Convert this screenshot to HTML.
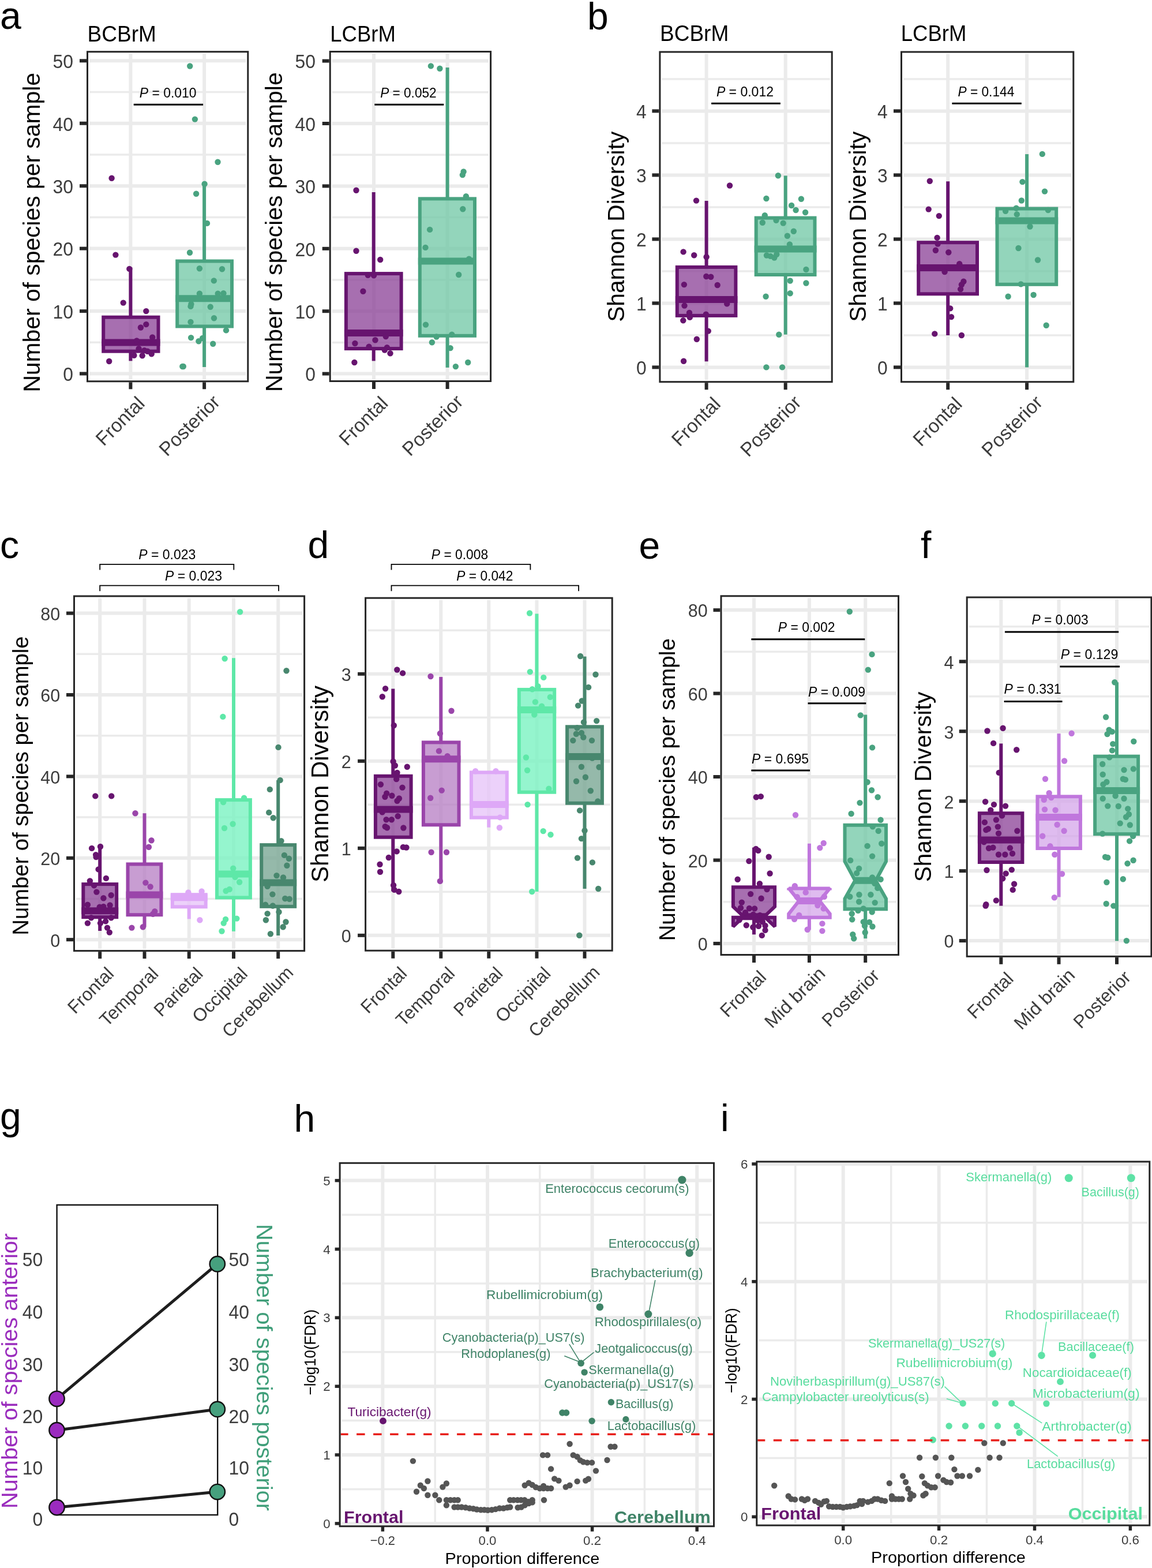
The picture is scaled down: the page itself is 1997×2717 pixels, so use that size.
<!DOCTYPE html>
<html><head><meta charset="utf-8"><title>Figure</title>
<style>html,body{margin:0;padding:0;background:#fff;}svg{display:block;}</style>
</head><body>
<svg width="1997" height="2717" viewBox="0 0 1997 2717" font-family='"Liberation Sans", Arial, sans-serif'>
<rect x="0" y="0" width="1997" height="2717" fill="#fff"/>
<rect x="151.5" y="89.7" width="278.3" height="571.1" fill="#fff" stroke="none" stroke-width="0"/>
<line x1="155" y1="593.3" x2="426.3" y2="593.3" stroke="#ebebeb" stroke-width="3.5"/>
<line x1="155" y1="484.8" x2="426.3" y2="484.8" stroke="#ebebeb" stroke-width="3.5"/>
<line x1="155" y1="376.4" x2="426.3" y2="376.4" stroke="#ebebeb" stroke-width="3.5"/>
<line x1="155" y1="268" x2="426.3" y2="268" stroke="#ebebeb" stroke-width="3.5"/>
<line x1="155" y1="159.5" x2="426.3" y2="159.5" stroke="#ebebeb" stroke-width="3.5"/>
<line x1="155" y1="647.5" x2="426.3" y2="647.5" stroke="#ebebeb" stroke-width="6"/>
<line x1="155" y1="539.1" x2="426.3" y2="539.1" stroke="#ebebeb" stroke-width="6"/>
<line x1="155" y1="430.6" x2="426.3" y2="430.6" stroke="#ebebeb" stroke-width="6"/>
<line x1="155" y1="322.2" x2="426.3" y2="322.2" stroke="#ebebeb" stroke-width="6"/>
<line x1="155" y1="213.7" x2="426.3" y2="213.7" stroke="#ebebeb" stroke-width="6"/>
<line x1="155" y1="105.3" x2="426.3" y2="105.3" stroke="#ebebeb" stroke-width="6"/>
<line x1="226.4" y1="93.2" x2="226.4" y2="657.3" stroke="#ebebeb" stroke-width="6"/>
<line x1="354.1" y1="93.2" x2="354.1" y2="657.3" stroke="#ebebeb" stroke-width="6"/>
<line x1="226.4" y1="463.4" x2="226.4" y2="549.7" stroke="#67146f" stroke-width="6"/>
<line x1="226.4" y1="608.7" x2="226.4" y2="625.4" stroke="#67146f" stroke-width="6"/>
<rect x="179.2" y="549.7" width="95.3" height="59" fill="#8a3f95" stroke="#67146f" stroke-width="6" fill-opacity="0.75"/>
<line x1="176.2" y1="593.6" x2="277.5" y2="593.6" stroke="#67146f" stroke-width="12"/>
<line x1="354.1" y1="318.8" x2="354.1" y2="452.5" stroke="#49a380" stroke-width="6"/>
<line x1="354.1" y1="565.5" x2="354.1" y2="636" stroke="#49a380" stroke-width="6"/>
<rect x="307.2" y="452.5" width="94.8" height="113" fill="#6fc7a4" stroke="#49a380" stroke-width="6" fill-opacity="0.75"/>
<line x1="304.2" y1="517.3" x2="405" y2="517.3" stroke="#49a380" stroke-width="12"/>
<circle cx="193.6" cy="308.8" r="5.2" fill="#67146f"/>
<circle cx="200.4" cy="441.6" r="5.2" fill="#67146f"/>
<circle cx="224.3" cy="465.9" r="5.2" fill="#67146f"/>
<circle cx="213.7" cy="524.6" r="5.2" fill="#67146f"/>
<circle cx="253.3" cy="539.1" r="5.2" fill="#67146f"/>
<circle cx="243.9" cy="567.5" r="5.2" fill="#67146f"/>
<circle cx="253.3" cy="562.1" r="5.2" fill="#67146f"/>
<circle cx="264.2" cy="584.5" r="5.2" fill="#67146f"/>
<circle cx="237" cy="590.5" r="5.2" fill="#67146f"/>
<circle cx="240.6" cy="604.2" r="5.2" fill="#67146f"/>
<circle cx="250.3" cy="607.2" r="5.2" fill="#67146f"/>
<circle cx="255.7" cy="608.7" r="5.2" fill="#67146f"/>
<circle cx="262.7" cy="613.3" r="5.2" fill="#67146f"/>
<circle cx="232.4" cy="615.7" r="5.2" fill="#67146f"/>
<circle cx="246.7" cy="616.3" r="5.2" fill="#67146f"/>
<circle cx="189.2" cy="626" r="5.2" fill="#67146f"/>
<circle cx="329.2" cy="114.5" r="5.2" fill="#49a380"/>
<circle cx="337.9" cy="206.6" r="5.2" fill="#49a380"/>
<circle cx="377.5" cy="280.7" r="5.2" fill="#49a380"/>
<circle cx="354.6" cy="318.8" r="5.2" fill="#49a380"/>
<circle cx="340.1" cy="335.7" r="5.2" fill="#49a380"/>
<circle cx="359" cy="386.9" r="5.2" fill="#49a380"/>
<circle cx="329" cy="437.7" r="5.2" fill="#49a380"/>
<circle cx="345.9" cy="465.3" r="5.2" fill="#49a380"/>
<circle cx="385" cy="466.2" r="5.2" fill="#49a380"/>
<circle cx="370.8" cy="486.4" r="5.2" fill="#49a380"/>
<circle cx="345.9" cy="508.8" r="5.2" fill="#49a380"/>
<circle cx="377.7" cy="508.8" r="5.2" fill="#49a380"/>
<circle cx="387.4" cy="508.2" r="5.2" fill="#49a380"/>
<circle cx="331.4" cy="527" r="5.2" fill="#49a380"/>
<circle cx="330.5" cy="530.9" r="5.2" fill="#49a380"/>
<circle cx="364.7" cy="531.8" r="5.2" fill="#49a380"/>
<circle cx="371" cy="551.2" r="5.2" fill="#49a380"/>
<circle cx="330.5" cy="557.9" r="5.2" fill="#49a380"/>
<circle cx="392" cy="572.4" r="5.2" fill="#49a380"/>
<circle cx="331.1" cy="585.1" r="5.2" fill="#49a380"/>
<circle cx="351.1" cy="586" r="5.2" fill="#49a380"/>
<circle cx="344.4" cy="591.2" r="5.2" fill="#49a380"/>
<circle cx="369.2" cy="595.7" r="5.2" fill="#49a380"/>
<circle cx="317.8" cy="635" r="5.2" fill="#49a380"/>
<circle cx="316.3" cy="635" r="5.2" fill="#49a380"/>
<rect x="151.5" y="89.7" width="278.3" height="571.1" fill="none" stroke="#262626" stroke-width="3"/>
<line x1="138" y1="647.5" x2="150" y2="647.5" stroke="#262626" stroke-width="6"/>
<text x="127" y="660.2" font-size="32.6" fill="#3c3c3c" text-anchor="end" textLength="17.7" lengthAdjust="spacingAndGlyphs">0</text>
<line x1="138" y1="539.1" x2="150" y2="539.1" stroke="#262626" stroke-width="6"/>
<text x="127" y="551.8" font-size="32.6" fill="#3c3c3c" text-anchor="end" textLength="35.5" lengthAdjust="spacingAndGlyphs">10</text>
<line x1="138" y1="430.6" x2="150" y2="430.6" stroke="#262626" stroke-width="6"/>
<text x="127" y="443.4" font-size="32.6" fill="#3c3c3c" text-anchor="end" textLength="35.5" lengthAdjust="spacingAndGlyphs">20</text>
<line x1="138" y1="322.2" x2="150" y2="322.2" stroke="#262626" stroke-width="6"/>
<text x="127" y="334.9" font-size="32.6" fill="#3c3c3c" text-anchor="end" textLength="35.5" lengthAdjust="spacingAndGlyphs">30</text>
<line x1="138" y1="213.7" x2="150" y2="213.7" stroke="#262626" stroke-width="6"/>
<text x="127" y="226.5" font-size="32.6" fill="#3c3c3c" text-anchor="end" textLength="35.5" lengthAdjust="spacingAndGlyphs">40</text>
<line x1="138" y1="105.3" x2="150" y2="105.3" stroke="#262626" stroke-width="6"/>
<text x="127" y="118.1" font-size="32.6" fill="#3c3c3c" text-anchor="end" textLength="35.5" lengthAdjust="spacingAndGlyphs">50</text>
<line x1="226.4" y1="662.3" x2="226.4" y2="674.3" stroke="#262626" stroke-width="6"/>
<line x1="354.1" y1="662.3" x2="354.1" y2="674.3" stroke="#262626" stroke-width="6"/>
<text x="252.8" y="701.4" font-size="33.5" fill="#3c3c3c" text-anchor="end" textLength="103.2" lengthAdjust="spacingAndGlyphs" transform="rotate(-45 252.8 701.4)">Frontal</text>
<text x="383.3" y="698.6" font-size="33.5" fill="#3c3c3c" text-anchor="end" textLength="132.5" lengthAdjust="spacingAndGlyphs" transform="rotate(-45 383.3 698.6)">Posterior</text>
<text x="241.7" y="169" font-size="24.5" fill="#000" text-anchor="start" textLength="98.9" lengthAdjust="spacingAndGlyphs"><tspan font-style="italic">P</tspan> = 0.010</text>
<line x1="231.7" y1="181.3" x2="352.1" y2="181.3" stroke="#000" stroke-width="3"/>
<text x="151.6" y="72.1" font-size="39.2" fill="#000" text-anchor="start" textLength="119.2" lengthAdjust="spacingAndGlyphs">BCBrM</text>
<text x="69" y="679.6" font-size="41.4" fill="#000" text-anchor="start" textLength="553.5" lengthAdjust="spacingAndGlyphs" transform="rotate(-90 69 679.6)">Number of species per sample</text>
<rect x="572.2" y="89.5" width="278.4" height="571" fill="#fff" stroke="none" stroke-width="0"/>
<line x1="575.7" y1="593.4" x2="847.1" y2="593.4" stroke="#ebebeb" stroke-width="3.5"/>
<line x1="575.7" y1="485" x2="847.1" y2="485" stroke="#ebebeb" stroke-width="3.5"/>
<line x1="575.7" y1="376.6" x2="847.1" y2="376.6" stroke="#ebebeb" stroke-width="3.5"/>
<line x1="575.7" y1="268.2" x2="847.1" y2="268.2" stroke="#ebebeb" stroke-width="3.5"/>
<line x1="575.7" y1="159.8" x2="847.1" y2="159.8" stroke="#ebebeb" stroke-width="3.5"/>
<line x1="575.7" y1="647.6" x2="847.1" y2="647.6" stroke="#ebebeb" stroke-width="6"/>
<line x1="575.7" y1="539.2" x2="847.1" y2="539.2" stroke="#ebebeb" stroke-width="6"/>
<line x1="575.7" y1="430.8" x2="847.1" y2="430.8" stroke="#ebebeb" stroke-width="6"/>
<line x1="575.7" y1="322.4" x2="847.1" y2="322.4" stroke="#ebebeb" stroke-width="6"/>
<line x1="575.7" y1="214" x2="847.1" y2="214" stroke="#ebebeb" stroke-width="6"/>
<line x1="575.7" y1="105.6" x2="847.1" y2="105.6" stroke="#ebebeb" stroke-width="6"/>
<line x1="648" y1="93" x2="648" y2="657" stroke="#ebebeb" stroke-width="6"/>
<line x1="775.6" y1="93" x2="775.6" y2="657" stroke="#ebebeb" stroke-width="6"/>
<line x1="647.7" y1="333" x2="647.7" y2="474.1" stroke="#67146f" stroke-width="6"/>
<line x1="647.7" y1="604.1" x2="647.7" y2="625.4" stroke="#67146f" stroke-width="6"/>
<rect x="599.9" y="474.1" width="95.7" height="130" fill="#8a3f95" stroke="#67146f" stroke-width="6" fill-opacity="0.75"/>
<line x1="596.9" y1="577.1" x2="698.6" y2="577.1" stroke="#67146f" stroke-width="12"/>
<line x1="775.6" y1="117" x2="775.6" y2="344.4" stroke="#49a380" stroke-width="6"/>
<line x1="775.6" y1="581.8" x2="775.6" y2="636.9" stroke="#49a380" stroke-width="6"/>
<rect x="727.8" y="344.4" width="95.2" height="237.4" fill="#6fc7a4" stroke="#49a380" stroke-width="6" fill-opacity="0.75"/>
<line x1="724.8" y1="452.6" x2="826" y2="452.6" stroke="#49a380" stroke-width="12"/>
<circle cx="617.5" cy="329.7" r="5.2" fill="#67146f"/>
<circle cx="617.5" cy="434.8" r="5.2" fill="#67146f"/>
<circle cx="659.2" cy="450" r="5.2" fill="#67146f"/>
<circle cx="637.8" cy="476.7" r="5.2" fill="#67146f"/>
<circle cx="648" cy="477.2" r="5.2" fill="#67146f"/>
<circle cx="629.4" cy="504.7" r="5.2" fill="#67146f"/>
<circle cx="668.8" cy="583" r="5.2" fill="#67146f"/>
<circle cx="650.5" cy="589.3" r="5.2" fill="#67146f"/>
<circle cx="615.4" cy="595" r="5.2" fill="#67146f"/>
<circle cx="639.6" cy="600.8" r="5.2" fill="#67146f"/>
<circle cx="670.9" cy="602.1" r="5.2" fill="#67146f"/>
<circle cx="666.8" cy="606.6" r="5.2" fill="#67146f"/>
<circle cx="676.5" cy="612.2" r="5.2" fill="#67146f"/>
<circle cx="614.4" cy="628" r="5.2" fill="#67146f"/>
<circle cx="746.9" cy="114.4" r="5.2" fill="#49a380"/>
<circle cx="762.4" cy="118.7" r="5.2" fill="#49a380"/>
<circle cx="803.6" cy="297.5" r="5.2" fill="#49a380"/>
<circle cx="801.8" cy="303.1" r="5.2" fill="#49a380"/>
<circle cx="807.9" cy="340.2" r="5.2" fill="#49a380"/>
<circle cx="802.3" cy="362.3" r="5.2" fill="#49a380"/>
<circle cx="745.1" cy="397.9" r="5.2" fill="#49a380"/>
<circle cx="737.5" cy="428.9" r="5.2" fill="#49a380"/>
<circle cx="813" cy="448.7" r="5.2" fill="#49a380"/>
<circle cx="795.2" cy="476" r="5.2" fill="#49a380"/>
<circle cx="738" cy="562.6" r="5.2" fill="#49a380"/>
<circle cx="756.6" cy="583.5" r="5.2" fill="#49a380"/>
<circle cx="783.3" cy="579.7" r="5.2" fill="#49a380"/>
<circle cx="748.9" cy="593.2" r="5.2" fill="#49a380"/>
<circle cx="780.7" cy="603.1" r="5.2" fill="#49a380"/>
<circle cx="811.2" cy="628" r="5.2" fill="#49a380"/>
<circle cx="789.9" cy="635.1" r="5.2" fill="#49a380"/>
<rect x="572.2" y="89.5" width="278.4" height="571" fill="none" stroke="#262626" stroke-width="3"/>
<line x1="558.7" y1="647.6" x2="570.7" y2="647.6" stroke="#262626" stroke-width="6"/>
<text x="547" y="660.4" font-size="32.6" fill="#3c3c3c" text-anchor="end" textLength="17.7" lengthAdjust="spacingAndGlyphs">0</text>
<line x1="558.7" y1="539.2" x2="570.7" y2="539.2" stroke="#262626" stroke-width="6"/>
<text x="547" y="552" font-size="32.6" fill="#3c3c3c" text-anchor="end" textLength="35.5" lengthAdjust="spacingAndGlyphs">10</text>
<line x1="558.7" y1="430.8" x2="570.7" y2="430.8" stroke="#262626" stroke-width="6"/>
<text x="547" y="443.6" font-size="32.6" fill="#3c3c3c" text-anchor="end" textLength="35.5" lengthAdjust="spacingAndGlyphs">20</text>
<line x1="558.7" y1="322.4" x2="570.7" y2="322.4" stroke="#262626" stroke-width="6"/>
<text x="547" y="335.2" font-size="32.6" fill="#3c3c3c" text-anchor="end" textLength="35.5" lengthAdjust="spacingAndGlyphs">30</text>
<line x1="558.7" y1="214" x2="570.7" y2="214" stroke="#262626" stroke-width="6"/>
<text x="547" y="226.8" font-size="32.6" fill="#3c3c3c" text-anchor="end" textLength="35.5" lengthAdjust="spacingAndGlyphs">40</text>
<line x1="558.7" y1="105.6" x2="570.7" y2="105.6" stroke="#262626" stroke-width="6"/>
<text x="547" y="118.4" font-size="32.6" fill="#3c3c3c" text-anchor="end" textLength="35.5" lengthAdjust="spacingAndGlyphs">50</text>
<line x1="648" y1="662" x2="648" y2="674" stroke="#262626" stroke-width="6"/>
<line x1="775.6" y1="662" x2="775.6" y2="674" stroke="#262626" stroke-width="6"/>
<text x="674.4" y="701.1" font-size="33.5" fill="#3c3c3c" text-anchor="end" textLength="103.2" lengthAdjust="spacingAndGlyphs" transform="rotate(-45 674.4 701.1)">Frontal</text>
<text x="804.8" y="698.3" font-size="33.5" fill="#3c3c3c" text-anchor="end" textLength="132.5" lengthAdjust="spacingAndGlyphs" transform="rotate(-45 804.8 698.3)">Posterior</text>
<text x="659.2" y="169" font-size="24.5" fill="#000" text-anchor="start" textLength="97.4" lengthAdjust="spacingAndGlyphs"><tspan font-style="italic">P</tspan> = 0.052</text>
<line x1="649.3" y1="181.3" x2="769.3" y2="181.3" stroke="#000" stroke-width="3"/>
<text x="572.3" y="72" font-size="39.2" fill="#000" text-anchor="start" textLength="113.5" lengthAdjust="spacingAndGlyphs">LCBrM</text>
<text x="488.6" y="678.9" font-size="41.4" fill="#000" text-anchor="start" textLength="553.5" lengthAdjust="spacingAndGlyphs" transform="rotate(-90 488.6 678.9)">Number of species per sample</text>
<rect x="1143.9" y="90" width="298.3" height="571.7" fill="#fff" stroke="none" stroke-width="0"/>
<line x1="1147.4" y1="580.9" x2="1438.7" y2="580.9" stroke="#ebebeb" stroke-width="3.5"/>
<line x1="1147.4" y1="469.9" x2="1438.7" y2="469.9" stroke="#ebebeb" stroke-width="3.5"/>
<line x1="1147.4" y1="358.9" x2="1438.7" y2="358.9" stroke="#ebebeb" stroke-width="3.5"/>
<line x1="1147.4" y1="247.9" x2="1438.7" y2="247.9" stroke="#ebebeb" stroke-width="3.5"/>
<line x1="1147.4" y1="136.9" x2="1438.7" y2="136.9" stroke="#ebebeb" stroke-width="3.5"/>
<line x1="1147.4" y1="636.4" x2="1438.7" y2="636.4" stroke="#ebebeb" stroke-width="6"/>
<line x1="1147.4" y1="525.4" x2="1438.7" y2="525.4" stroke="#ebebeb" stroke-width="6"/>
<line x1="1147.4" y1="414.4" x2="1438.7" y2="414.4" stroke="#ebebeb" stroke-width="6"/>
<line x1="1147.4" y1="303.4" x2="1438.7" y2="303.4" stroke="#ebebeb" stroke-width="6"/>
<line x1="1147.4" y1="192.4" x2="1438.7" y2="192.4" stroke="#ebebeb" stroke-width="6"/>
<line x1="1224.6" y1="93.5" x2="1224.6" y2="658.2" stroke="#ebebeb" stroke-width="6"/>
<line x1="1361.7" y1="93.5" x2="1361.7" y2="658.2" stroke="#ebebeb" stroke-width="6"/>
<line x1="1224.6" y1="348" x2="1224.6" y2="462.9" stroke="#67146f" stroke-width="6"/>
<line x1="1224.6" y1="546.9" x2="1224.6" y2="626.3" stroke="#67146f" stroke-width="6"/>
<rect x="1173.8" y="462.9" width="101.6" height="84" fill="#8a3f95" stroke="#67146f" stroke-width="6" fill-opacity="0.75"/>
<line x1="1170.8" y1="519" x2="1278.4" y2="519" stroke="#67146f" stroke-width="12"/>
<line x1="1361.7" y1="304.4" x2="1361.7" y2="377.6" stroke="#49a380" stroke-width="6"/>
<line x1="1361.7" y1="476" x2="1361.7" y2="579.7" stroke="#49a380" stroke-width="6"/>
<rect x="1310.7" y="377.6" width="101.8" height="98.4" fill="#6fc7a4" stroke="#49a380" stroke-width="6" fill-opacity="0.75"/>
<line x1="1307.7" y1="431.4" x2="1415.5" y2="431.4" stroke="#49a380" stroke-width="12"/>
<circle cx="1265" cy="321.5" r="5.2" fill="#67146f"/>
<circle cx="1207" cy="347.6" r="5.2" fill="#67146f"/>
<circle cx="1184.6" cy="436.4" r="5.2" fill="#67146f"/>
<circle cx="1203.2" cy="442.3" r="5.2" fill="#67146f"/>
<circle cx="1224.6" cy="445.2" r="5.2" fill="#67146f"/>
<circle cx="1224.3" cy="479" r="5.2" fill="#67146f"/>
<circle cx="1232.3" cy="479.8" r="5.2" fill="#67146f"/>
<circle cx="1185.9" cy="493.1" r="5.2" fill="#67146f"/>
<circle cx="1243.7" cy="494" r="5.2" fill="#67146f"/>
<circle cx="1186.5" cy="529.6" r="5.2" fill="#67146f"/>
<circle cx="1260.2" cy="526.4" r="5.2" fill="#67146f"/>
<circle cx="1195" cy="541.9" r="5.2" fill="#67146f"/>
<circle cx="1195.8" cy="549.9" r="5.2" fill="#67146f"/>
<circle cx="1223.8" cy="544.6" r="5.2" fill="#67146f"/>
<circle cx="1184.3" cy="555.2" r="5.2" fill="#67146f"/>
<circle cx="1227.8" cy="573.6" r="5.2" fill="#67146f"/>
<circle cx="1207.8" cy="587.7" r="5.2" fill="#67146f"/>
<circle cx="1185.1" cy="625.8" r="5.2" fill="#67146f"/>
<circle cx="1348.9" cy="304.2" r="5.2" fill="#49a380"/>
<circle cx="1328.4" cy="344" r="5.2" fill="#49a380"/>
<circle cx="1388.9" cy="344.8" r="5.2" fill="#49a380"/>
<circle cx="1372.1" cy="356" r="5.2" fill="#49a380"/>
<circle cx="1379.6" cy="364" r="5.2" fill="#49a380"/>
<circle cx="1396.1" cy="368" r="5.2" fill="#49a380"/>
<circle cx="1325.8" cy="373.3" r="5.2" fill="#49a380"/>
<circle cx="1321.8" cy="385.8" r="5.2" fill="#49a380"/>
<circle cx="1345.5" cy="381.8" r="5.2" fill="#49a380"/>
<circle cx="1357.7" cy="386.6" r="5.2" fill="#49a380"/>
<circle cx="1375.8" cy="400.7" r="5.2" fill="#49a380"/>
<circle cx="1364.9" cy="408.7" r="5.2" fill="#49a380"/>
<circle cx="1368.9" cy="423.4" r="5.2" fill="#49a380"/>
<circle cx="1329" cy="442.5" r="5.2" fill="#49a380"/>
<circle cx="1335.6" cy="443.9" r="5.2" fill="#49a380"/>
<circle cx="1342.3" cy="446.5" r="5.2" fill="#49a380"/>
<circle cx="1346.3" cy="440.7" r="5.2" fill="#49a380"/>
<circle cx="1397.4" cy="467" r="5.2" fill="#49a380"/>
<circle cx="1369.7" cy="486.5" r="5.2" fill="#49a380"/>
<circle cx="1397.4" cy="490.5" r="5.2" fill="#49a380"/>
<circle cx="1327.6" cy="513.7" r="5.2" fill="#49a380"/>
<circle cx="1369.7" cy="508.3" r="5.2" fill="#49a380"/>
<circle cx="1350.3" cy="579.7" r="5.2" fill="#49a380"/>
<circle cx="1328.4" cy="636.4" r="5.2" fill="#49a380"/>
<circle cx="1356.1" cy="636.4" r="5.2" fill="#49a380"/>
<rect x="1143.9" y="90" width="298.3" height="571.7" fill="none" stroke="#262626" stroke-width="3"/>
<line x1="1130.4" y1="636.4" x2="1142.4" y2="636.4" stroke="#262626" stroke-width="6"/>
<text x="1120.6" y="649.1" font-size="32.6" fill="#3c3c3c" text-anchor="end" textLength="17.7" lengthAdjust="spacingAndGlyphs">0</text>
<line x1="1130.4" y1="525.4" x2="1142.4" y2="525.4" stroke="#262626" stroke-width="6"/>
<text x="1120.6" y="538.1" font-size="32.6" fill="#3c3c3c" text-anchor="end" textLength="17.7" lengthAdjust="spacingAndGlyphs">1</text>
<line x1="1130.4" y1="414.4" x2="1142.4" y2="414.4" stroke="#262626" stroke-width="6"/>
<text x="1120.6" y="427.1" font-size="32.6" fill="#3c3c3c" text-anchor="end" textLength="17.7" lengthAdjust="spacingAndGlyphs">2</text>
<line x1="1130.4" y1="303.4" x2="1142.4" y2="303.4" stroke="#262626" stroke-width="6"/>
<text x="1120.6" y="316.1" font-size="32.6" fill="#3c3c3c" text-anchor="end" textLength="17.7" lengthAdjust="spacingAndGlyphs">3</text>
<line x1="1130.4" y1="192.4" x2="1142.4" y2="192.4" stroke="#262626" stroke-width="6"/>
<text x="1120.6" y="205.1" font-size="32.6" fill="#3c3c3c" text-anchor="end" textLength="17.7" lengthAdjust="spacingAndGlyphs">4</text>
<line x1="1224.6" y1="663.2" x2="1224.6" y2="675.2" stroke="#262626" stroke-width="6"/>
<line x1="1361.7" y1="663.2" x2="1361.7" y2="675.2" stroke="#262626" stroke-width="6"/>
<text x="1251" y="702.3" font-size="33.5" fill="#3c3c3c" text-anchor="end" textLength="103.2" lengthAdjust="spacingAndGlyphs" transform="rotate(-45 1251 702.3)">Frontal</text>
<text x="1390.9" y="699.5" font-size="33.5" fill="#3c3c3c" text-anchor="end" textLength="132.5" lengthAdjust="spacingAndGlyphs" transform="rotate(-45 1390.9 699.5)">Posterior</text>
<text x="1241.9" y="166.5" font-size="24.5" fill="#000" text-anchor="start" textLength="99.1" lengthAdjust="spacingAndGlyphs"><tspan font-style="italic">P</tspan> = 0.012</text>
<line x1="1233.1" y1="179.3" x2="1352.9" y2="179.3" stroke="#000" stroke-width="3"/>
<text x="1144" y="71.4" font-size="39.2" fill="#000" text-anchor="start" textLength="119.2" lengthAdjust="spacingAndGlyphs">BCBrM</text>
<text x="1081.6" y="557.8" font-size="41.4" fill="#000" text-anchor="start" textLength="330.1" lengthAdjust="spacingAndGlyphs" transform="rotate(-90 1081.6 557.8)">Shannon Diversity</text>
<rect x="1562.5" y="90" width="298.3" height="571.7" fill="#fff" stroke="none" stroke-width="0"/>
<line x1="1566" y1="580.9" x2="1857.3" y2="580.9" stroke="#ebebeb" stroke-width="3.5"/>
<line x1="1566" y1="469.9" x2="1857.3" y2="469.9" stroke="#ebebeb" stroke-width="3.5"/>
<line x1="1566" y1="358.9" x2="1857.3" y2="358.9" stroke="#ebebeb" stroke-width="3.5"/>
<line x1="1566" y1="247.9" x2="1857.3" y2="247.9" stroke="#ebebeb" stroke-width="3.5"/>
<line x1="1566" y1="136.9" x2="1857.3" y2="136.9" stroke="#ebebeb" stroke-width="3.5"/>
<line x1="1566" y1="636.4" x2="1857.3" y2="636.4" stroke="#ebebeb" stroke-width="6"/>
<line x1="1566" y1="525.4" x2="1857.3" y2="525.4" stroke="#ebebeb" stroke-width="6"/>
<line x1="1566" y1="414.4" x2="1857.3" y2="414.4" stroke="#ebebeb" stroke-width="6"/>
<line x1="1566" y1="303.4" x2="1857.3" y2="303.4" stroke="#ebebeb" stroke-width="6"/>
<line x1="1566" y1="192.4" x2="1857.3" y2="192.4" stroke="#ebebeb" stroke-width="6"/>
<line x1="1643.2" y1="93.5" x2="1643.2" y2="658.2" stroke="#ebebeb" stroke-width="6"/>
<line x1="1780.1" y1="93.5" x2="1780.1" y2="658.2" stroke="#ebebeb" stroke-width="6"/>
<line x1="1643.2" y1="314.3" x2="1643.2" y2="420.2" stroke="#67146f" stroke-width="6"/>
<line x1="1643.2" y1="509.3" x2="1643.2" y2="581" stroke="#67146f" stroke-width="6"/>
<rect x="1592.2" y="420.2" width="101.8" height="89.1" fill="#8a3f95" stroke="#67146f" stroke-width="6" fill-opacity="0.75"/>
<line x1="1589.2" y1="463.9" x2="1697" y2="463.9" stroke="#67146f" stroke-width="12"/>
<line x1="1780.1" y1="267.1" x2="1780.1" y2="361.6" stroke="#49a380" stroke-width="6"/>
<line x1="1780.1" y1="492.8" x2="1780.1" y2="636.4" stroke="#49a380" stroke-width="6"/>
<rect x="1728.5" y="361.6" width="102.7" height="131.2" fill="#6fc7a4" stroke="#49a380" stroke-width="6" fill-opacity="0.75"/>
<line x1="1725.5" y1="382.6" x2="1834.2" y2="382.6" stroke="#49a380" stroke-width="12"/>
<circle cx="1611.8" cy="313.8" r="5.2" fill="#67146f"/>
<circle cx="1609.7" cy="362.6" r="5.2" fill="#67146f"/>
<circle cx="1627.8" cy="374.1" r="5.2" fill="#67146f"/>
<circle cx="1624.6" cy="411.9" r="5.2" fill="#67146f"/>
<circle cx="1625.6" cy="422.6" r="5.2" fill="#67146f"/>
<circle cx="1621.9" cy="433.8" r="5.2" fill="#67146f"/>
<circle cx="1644.3" cy="437.2" r="5.2" fill="#67146f"/>
<circle cx="1663.2" cy="457.2" r="5.2" fill="#67146f"/>
<circle cx="1637.6" cy="471" r="5.2" fill="#67146f"/>
<circle cx="1670.4" cy="487.8" r="5.2" fill="#67146f"/>
<circle cx="1666.9" cy="493.2" r="5.2" fill="#67146f"/>
<circle cx="1665.1" cy="501.1" r="5.2" fill="#67146f"/>
<circle cx="1647.2" cy="534.4" r="5.2" fill="#67146f"/>
<circle cx="1649.1" cy="549.1" r="5.2" fill="#67146f"/>
<circle cx="1620.3" cy="578.4" r="5.2" fill="#67146f"/>
<circle cx="1666.9" cy="581" r="5.2" fill="#67146f"/>
<circle cx="1806.8" cy="266.9" r="5.2" fill="#49a380"/>
<circle cx="1772.4" cy="315.1" r="5.2" fill="#49a380"/>
<circle cx="1811" cy="331.6" r="5.2" fill="#49a380"/>
<circle cx="1770.8" cy="347.5" r="5.2" fill="#49a380"/>
<circle cx="1761.7" cy="360.8" r="5.2" fill="#49a380"/>
<circle cx="1743.1" cy="365.8" r="5.2" fill="#49a380"/>
<circle cx="1762.8" cy="371.4" r="5.2" fill="#49a380"/>
<circle cx="1816.9" cy="364" r="5.2" fill="#49a380"/>
<circle cx="1785.5" cy="392.5" r="5.2" fill="#49a380"/>
<circle cx="1765.5" cy="430" r="5.2" fill="#49a380"/>
<circle cx="1799" cy="450.5" r="5.2" fill="#49a380"/>
<circle cx="1769.7" cy="492.4" r="5.2" fill="#49a380"/>
<circle cx="1747.6" cy="513.7" r="5.2" fill="#49a380"/>
<circle cx="1791.6" cy="511" r="5.2" fill="#49a380"/>
<circle cx="1813.7" cy="563.7" r="5.2" fill="#49a380"/>
<rect x="1562.5" y="90" width="298.3" height="571.7" fill="none" stroke="#262626" stroke-width="3"/>
<line x1="1549" y1="636.4" x2="1561" y2="636.4" stroke="#262626" stroke-width="6"/>
<text x="1538.7" y="649.1" font-size="32.6" fill="#3c3c3c" text-anchor="end" textLength="17.7" lengthAdjust="spacingAndGlyphs">0</text>
<line x1="1549" y1="525.4" x2="1561" y2="525.4" stroke="#262626" stroke-width="6"/>
<text x="1538.7" y="538.1" font-size="32.6" fill="#3c3c3c" text-anchor="end" textLength="17.7" lengthAdjust="spacingAndGlyphs">1</text>
<line x1="1549" y1="414.4" x2="1561" y2="414.4" stroke="#262626" stroke-width="6"/>
<text x="1538.7" y="427.1" font-size="32.6" fill="#3c3c3c" text-anchor="end" textLength="17.7" lengthAdjust="spacingAndGlyphs">2</text>
<line x1="1549" y1="303.4" x2="1561" y2="303.4" stroke="#262626" stroke-width="6"/>
<text x="1538.7" y="316.1" font-size="32.6" fill="#3c3c3c" text-anchor="end" textLength="17.7" lengthAdjust="spacingAndGlyphs">3</text>
<line x1="1549" y1="192.4" x2="1561" y2="192.4" stroke="#262626" stroke-width="6"/>
<text x="1538.7" y="205.1" font-size="32.6" fill="#3c3c3c" text-anchor="end" textLength="17.7" lengthAdjust="spacingAndGlyphs">4</text>
<line x1="1643.2" y1="663.2" x2="1643.2" y2="675.2" stroke="#262626" stroke-width="6"/>
<line x1="1780.1" y1="663.2" x2="1780.1" y2="675.2" stroke="#262626" stroke-width="6"/>
<text x="1669.6" y="702.3" font-size="33.5" fill="#3c3c3c" text-anchor="end" textLength="103.2" lengthAdjust="spacingAndGlyphs" transform="rotate(-45 1669.6 702.3)">Frontal</text>
<text x="1809.3" y="699.5" font-size="33.5" fill="#3c3c3c" text-anchor="end" textLength="132.5" lengthAdjust="spacingAndGlyphs" transform="rotate(-45 1809.3 699.5)">Posterior</text>
<text x="1660.5" y="166.5" font-size="24.5" fill="#000" text-anchor="start" textLength="97.8" lengthAdjust="spacingAndGlyphs"><tspan font-style="italic">P</tspan> = 0.144</text>
<line x1="1650.4" y1="179.3" x2="1770.8" y2="179.3" stroke="#000" stroke-width="3"/>
<text x="1561.8" y="71.4" font-size="39.2" fill="#000" text-anchor="start" textLength="113.5" lengthAdjust="spacingAndGlyphs">LCBrM</text>
<text x="1500.8" y="557.8" font-size="41.4" fill="#000" text-anchor="start" textLength="330.1" lengthAdjust="spacingAndGlyphs" transform="rotate(-90 1500.8 557.8)">Shannon Diversity</text>
<text x="0" y="50" font-size="66" fill="#000">a</text>
<text x="1018" y="50.6" font-size="66" fill="#000">b</text>
<rect x="128.5" y="1033" width="399.1" height="614.6" fill="#fff" stroke="none" stroke-width="0"/>
<line x1="132" y1="1557.5" x2="524.1" y2="1557.5" stroke="#ebebeb" stroke-width="3.5"/>
<line x1="132" y1="1416.1" x2="524.1" y2="1416.1" stroke="#ebebeb" stroke-width="3.5"/>
<line x1="132" y1="1274.7" x2="524.1" y2="1274.7" stroke="#ebebeb" stroke-width="3.5"/>
<line x1="132" y1="1133.3" x2="524.1" y2="1133.3" stroke="#ebebeb" stroke-width="3.5"/>
<line x1="132" y1="1628.2" x2="524.1" y2="1628.2" stroke="#ebebeb" stroke-width="6"/>
<line x1="132" y1="1486.8" x2="524.1" y2="1486.8" stroke="#ebebeb" stroke-width="6"/>
<line x1="132" y1="1345.4" x2="524.1" y2="1345.4" stroke="#ebebeb" stroke-width="6"/>
<line x1="132" y1="1204" x2="524.1" y2="1204" stroke="#ebebeb" stroke-width="6"/>
<line x1="132" y1="1062.6" x2="524.1" y2="1062.6" stroke="#ebebeb" stroke-width="6"/>
<line x1="173.2" y1="1036.5" x2="173.2" y2="1644.1" stroke="#ebebeb" stroke-width="6"/>
<line x1="250.5" y1="1036.5" x2="250.5" y2="1644.1" stroke="#ebebeb" stroke-width="6"/>
<line x1="327.7" y1="1036.5" x2="327.7" y2="1644.1" stroke="#ebebeb" stroke-width="6"/>
<line x1="405" y1="1036.5" x2="405" y2="1644.1" stroke="#ebebeb" stroke-width="6"/>
<line x1="482.2" y1="1036.5" x2="482.2" y2="1644.1" stroke="#ebebeb" stroke-width="6"/>
<line x1="173.2" y1="1467.8" x2="173.2" y2="1532.1" stroke="#67146f" stroke-width="6"/>
<line x1="173.2" y1="1589.2" x2="173.2" y2="1613" stroke="#67146f" stroke-width="6"/>
<rect x="144.3" y="1532.1" width="57.9" height="57.1" fill="#8a3f95" stroke="#67146f" stroke-width="6" fill-opacity="0.75"/>
<line x1="141.3" y1="1578.3" x2="205.2" y2="1578.3" stroke="#67146f" stroke-width="12"/>
<line x1="250.5" y1="1409.2" x2="250.5" y2="1497.4" stroke="#9a45aa" stroke-width="6"/>
<line x1="250.5" y1="1585.2" x2="250.5" y2="1606.3" stroke="#9a45aa" stroke-width="6"/>
<rect x="221.5" y="1497.4" width="57.9" height="87.8" fill="#b57cc3" stroke="#9a45aa" stroke-width="6" fill-opacity="0.75"/>
<line x1="218.5" y1="1550.4" x2="282.4" y2="1550.4" stroke="#9a45aa" stroke-width="12"/>
<line x1="327.7" y1="1571.3" x2="327.7" y2="1592.4" stroke="#dea8f7" stroke-width="6"/>
<rect x="298.8" y="1550.2" width="57.9" height="21.1" fill="#e7c6f9" stroke="#dea8f7" stroke-width="6" fill-opacity="0.8"/>
<line x1="295.8" y1="1555.2" x2="359.7" y2="1555.2" stroke="#dea8f7" stroke-width="12"/>
<line x1="405" y1="1140.3" x2="405" y2="1386.1" stroke="#5ee8a8" stroke-width="6"/>
<line x1="405" y1="1555.4" x2="405" y2="1613.8" stroke="#5ee8a8" stroke-width="6"/>
<rect x="376" y="1386.1" width="57.9" height="169.3" fill="#7af3c2" stroke="#5ee8a8" stroke-width="6" fill-opacity="0.8"/>
<line x1="373" y1="1514.4" x2="436.9" y2="1514.4" stroke="#5ee8a8" stroke-width="12"/>
<line x1="482.2" y1="1351.9" x2="482.2" y2="1464.1" stroke="#48876e" stroke-width="6"/>
<line x1="482.2" y1="1570.8" x2="482.2" y2="1621" stroke="#48876e" stroke-width="6"/>
<rect x="453.2" y="1464.1" width="58" height="106.7" fill="#7aa795" stroke="#48876e" stroke-width="6" fill-opacity="0.8"/>
<line x1="450.2" y1="1529.6" x2="514.2" y2="1529.6" stroke="#48876e" stroke-width="12"/>
<circle cx="165.3" cy="1379.4" r="5.2" fill="#67146f"/>
<circle cx="193.2" cy="1379.4" r="5.2" fill="#67146f"/>
<circle cx="159.1" cy="1469.9" r="5.2" fill="#67146f"/>
<circle cx="174" cy="1467" r="5.2" fill="#67146f"/>
<circle cx="166.1" cy="1481.1" r="5.2" fill="#67146f"/>
<circle cx="166.6" cy="1485.1" r="5.2" fill="#67146f"/>
<circle cx="170.6" cy="1506.4" r="5.2" fill="#67146f"/>
<circle cx="183.9" cy="1521.9" r="5.2" fill="#67146f"/>
<circle cx="155.9" cy="1526.4" r="5.2" fill="#67146f"/>
<circle cx="163.1" cy="1534.4" r="5.2" fill="#67146f"/>
<circle cx="167.4" cy="1545.6" r="5.2" fill="#67146f"/>
<circle cx="192.7" cy="1551.2" r="5.2" fill="#67146f"/>
<circle cx="179.4" cy="1556.2" r="5.2" fill="#67146f"/>
<circle cx="151.9" cy="1567.7" r="5.2" fill="#67146f"/>
<circle cx="172.7" cy="1571.7" r="5.2" fill="#67146f"/>
<circle cx="179.4" cy="1570.9" r="5.2" fill="#67146f"/>
<circle cx="190.6" cy="1568.5" r="5.2" fill="#67146f"/>
<circle cx="158.1" cy="1590.3" r="5.2" fill="#67146f"/>
<circle cx="192.7" cy="1590.3" r="5.2" fill="#67146f"/>
<circle cx="151.9" cy="1599.6" r="5.2" fill="#67146f"/>
<circle cx="174" cy="1599.6" r="5.2" fill="#67146f"/>
<circle cx="183.1" cy="1596.4" r="5.2" fill="#67146f"/>
<circle cx="186" cy="1607.6" r="5.2" fill="#67146f"/>
<circle cx="189.8" cy="1615.6" r="5.2" fill="#67146f"/>
<circle cx="166.6" cy="1578.3" r="5.2" fill="#67146f"/>
<circle cx="234.5" cy="1409.2" r="5.2" fill="#9a45aa"/>
<circle cx="262.5" cy="1456.3" r="5.2" fill="#9a45aa"/>
<circle cx="257.9" cy="1467.8" r="5.2" fill="#9a45aa"/>
<circle cx="252.4" cy="1529.6" r="5.2" fill="#9a45aa"/>
<circle cx="260.6" cy="1536.5" r="5.2" fill="#9a45aa"/>
<circle cx="268.3" cy="1579.1" r="5.2" fill="#9a45aa"/>
<circle cx="265.1" cy="1583.7" r="5.2" fill="#9a45aa"/>
<circle cx="228.4" cy="1607.6" r="5.2" fill="#9a45aa"/>
<circle cx="247.8" cy="1606.3" r="5.2" fill="#9a45aa"/>
<circle cx="326.4" cy="1546.4" r="5.2" fill="#dea8f7"/>
<circle cx="349.6" cy="1544.5" r="5.2" fill="#dea8f7"/>
<circle cx="346.4" cy="1594.3" r="5.2" fill="#dea8f7"/>
<circle cx="416.1" cy="1060.2" r="5.2" fill="#5ee8a8"/>
<circle cx="389.6" cy="1141.2" r="5.2" fill="#5ee8a8"/>
<circle cx="386.4" cy="1241.9" r="5.2" fill="#5ee8a8"/>
<circle cx="423.1" cy="1382.6" r="5.2" fill="#5ee8a8"/>
<circle cx="387.1" cy="1390" r="5.2" fill="#5ee8a8"/>
<circle cx="389" cy="1435" r="5.2" fill="#5ee8a8"/>
<circle cx="403.6" cy="1427.8" r="5.2" fill="#5ee8a8"/>
<circle cx="404.2" cy="1504.6" r="5.2" fill="#5ee8a8"/>
<circle cx="407.6" cy="1519.7" r="5.2" fill="#5ee8a8"/>
<circle cx="415.1" cy="1528.5" r="5.2" fill="#5ee8a8"/>
<circle cx="391.6" cy="1543.7" r="5.2" fill="#5ee8a8"/>
<circle cx="397.8" cy="1541" r="5.2" fill="#5ee8a8"/>
<circle cx="391.1" cy="1593" r="5.2" fill="#5ee8a8"/>
<circle cx="410.3" cy="1591.6" r="5.2" fill="#5ee8a8"/>
<circle cx="387.7" cy="1599.6" r="5.2" fill="#5ee8a8"/>
<circle cx="384.5" cy="1613.5" r="5.2" fill="#5ee8a8"/>
<circle cx="496.5" cy="1162.2" r="5.2" fill="#48876e"/>
<circle cx="482.5" cy="1294.9" r="5.2" fill="#48876e"/>
<circle cx="485.7" cy="1351.9" r="5.2" fill="#48876e"/>
<circle cx="467.8" cy="1367.9" r="5.2" fill="#48876e"/>
<circle cx="466.2" cy="1407.9" r="5.2" fill="#48876e"/>
<circle cx="473.7" cy="1417.2" r="5.2" fill="#48876e"/>
<circle cx="487.5" cy="1457.1" r="5.2" fill="#48876e"/>
<circle cx="492.9" cy="1481.9" r="5.2" fill="#48876e"/>
<circle cx="500.9" cy="1487.8" r="5.2" fill="#48876e"/>
<circle cx="497.4" cy="1499.8" r="5.2" fill="#48876e"/>
<circle cx="479.5" cy="1517.1" r="5.2" fill="#48876e"/>
<circle cx="491" cy="1520.5" r="5.2" fill="#48876e"/>
<circle cx="463.6" cy="1535.7" r="5.2" fill="#48876e"/>
<circle cx="472.4" cy="1549.6" r="5.2" fill="#48876e"/>
<circle cx="494.2" cy="1557" r="5.2" fill="#48876e"/>
<circle cx="501.7" cy="1557.8" r="5.2" fill="#48876e"/>
<circle cx="460.1" cy="1567.7" r="5.2" fill="#48876e"/>
<circle cx="472.9" cy="1569.5" r="5.2" fill="#48876e"/>
<circle cx="483.5" cy="1580.2" r="5.2" fill="#48876e"/>
<circle cx="463.6" cy="1583.1" r="5.2" fill="#48876e"/>
<circle cx="460.9" cy="1594.3" r="5.2" fill="#48876e"/>
<circle cx="495.5" cy="1597.5" r="5.2" fill="#48876e"/>
<circle cx="490.7" cy="1606.3" r="5.2" fill="#48876e"/>
<circle cx="468.9" cy="1618.3" r="5.2" fill="#48876e"/>
<rect x="128.5" y="1033" width="399.1" height="614.6" fill="none" stroke="#262626" stroke-width="3"/>
<line x1="115" y1="1628.2" x2="127" y2="1628.2" stroke="#262626" stroke-width="6"/>
<text x="104.2" y="1640.5" font-size="31.2" fill="#3c3c3c" text-anchor="end" textLength="17" lengthAdjust="spacingAndGlyphs">0</text>
<line x1="115" y1="1486.8" x2="127" y2="1486.8" stroke="#262626" stroke-width="6"/>
<text x="104.2" y="1499.1" font-size="31.2" fill="#3c3c3c" text-anchor="end" textLength="34" lengthAdjust="spacingAndGlyphs">20</text>
<line x1="115" y1="1345.4" x2="127" y2="1345.4" stroke="#262626" stroke-width="6"/>
<text x="104.2" y="1357.7" font-size="31.2" fill="#3c3c3c" text-anchor="end" textLength="34" lengthAdjust="spacingAndGlyphs">40</text>
<line x1="115" y1="1204" x2="127" y2="1204" stroke="#262626" stroke-width="6"/>
<text x="104.2" y="1216.3" font-size="31.2" fill="#3c3c3c" text-anchor="end" textLength="34" lengthAdjust="spacingAndGlyphs">60</text>
<line x1="115" y1="1062.6" x2="127" y2="1062.6" stroke="#262626" stroke-width="6"/>
<text x="104.2" y="1074.9" font-size="31.2" fill="#3c3c3c" text-anchor="end" textLength="34" lengthAdjust="spacingAndGlyphs">80</text>
<line x1="173.2" y1="1649.1" x2="173.2" y2="1661.1" stroke="#262626" stroke-width="6"/>
<line x1="250.5" y1="1649.1" x2="250.5" y2="1661.1" stroke="#262626" stroke-width="6"/>
<line x1="327.7" y1="1649.1" x2="327.7" y2="1661.1" stroke="#262626" stroke-width="6"/>
<line x1="405" y1="1649.1" x2="405" y2="1661.1" stroke="#262626" stroke-width="6"/>
<line x1="482.2" y1="1649.1" x2="482.2" y2="1661.1" stroke="#262626" stroke-width="6"/>
<text x="199.2" y="1689.3" font-size="31.6" fill="#3c3c3c" text-anchor="end" textLength="97.5" lengthAdjust="spacingAndGlyphs" transform="rotate(-45 199.2 1689.3)">Frontal</text>
<text x="276.5" y="1689.3" font-size="31.6" fill="#3c3c3c" text-anchor="end" textLength="128.7" lengthAdjust="spacingAndGlyphs" transform="rotate(-45 276.5 1689.3)">Temporal</text>
<text x="353.7" y="1689.3" font-size="31.6" fill="#3c3c3c" text-anchor="end" textLength="104.6" lengthAdjust="spacingAndGlyphs" transform="rotate(-45 353.7 1689.3)">Parietal</text>
<text x="431" y="1689.3" font-size="31.6" fill="#3c3c3c" text-anchor="end" textLength="119.8" lengthAdjust="spacingAndGlyphs" transform="rotate(-45 431 1689.3)">Occipital</text>
<text x="510.3" y="1687.2" font-size="31.6" fill="#3c3c3c" text-anchor="end" textLength="158.8" lengthAdjust="spacingAndGlyphs" transform="rotate(-45 510.3 1687.2)">Cerebellum</text>
<text x="240.3" y="969.3" font-size="24.5" fill="#000" text-anchor="start" textLength="99" lengthAdjust="spacingAndGlyphs"><tspan font-style="italic">P</tspan> = 0.023</text>
<polyline points="173.2,987.6 173.2,977.8 405.3,977.8 405.3,987.6" fill="none" stroke="#000" stroke-width="1.8"/>
<text x="286" y="1006.2" font-size="24.5" fill="#000" text-anchor="start" textLength="99" lengthAdjust="spacingAndGlyphs"><tspan font-style="italic">P</tspan> = 0.023</text>
<polyline points="173.2,1024.2 173.2,1014.7 483.1,1014.7 483.1,1024.2" fill="none" stroke="#000" stroke-width="1.8"/>
<text x="48.8" y="1620.7" font-size="39.1" fill="#000" text-anchor="start" textLength="518.3" lengthAdjust="spacingAndGlyphs" transform="rotate(-90 48.8 1620.7)">Number of species per sample</text>
<text x="0" y="967" font-size="66" fill="#000">c</text>
<rect x="633.6" y="1036.2" width="427.6" height="611" fill="#fff" stroke="none" stroke-width="0"/>
<line x1="637.1" y1="1545.3" x2="1057.7" y2="1545.3" stroke="#ebebeb" stroke-width="3.5"/>
<line x1="637.1" y1="1394.3" x2="1057.7" y2="1394.3" stroke="#ebebeb" stroke-width="3.5"/>
<line x1="637.1" y1="1243.3" x2="1057.7" y2="1243.3" stroke="#ebebeb" stroke-width="3.5"/>
<line x1="637.1" y1="1092.3" x2="1057.7" y2="1092.3" stroke="#ebebeb" stroke-width="3.5"/>
<line x1="637.1" y1="1620.8" x2="1057.7" y2="1620.8" stroke="#ebebeb" stroke-width="6"/>
<line x1="637.1" y1="1469.8" x2="1057.7" y2="1469.8" stroke="#ebebeb" stroke-width="6"/>
<line x1="637.1" y1="1318.8" x2="1057.7" y2="1318.8" stroke="#ebebeb" stroke-width="6"/>
<line x1="637.1" y1="1167.8" x2="1057.7" y2="1167.8" stroke="#ebebeb" stroke-width="6"/>
<line x1="681.3" y1="1039.7" x2="681.3" y2="1643.7" stroke="#ebebeb" stroke-width="6"/>
<line x1="764.3" y1="1039.7" x2="764.3" y2="1643.7" stroke="#ebebeb" stroke-width="6"/>
<line x1="847.3" y1="1039.7" x2="847.3" y2="1643.7" stroke="#ebebeb" stroke-width="6"/>
<line x1="930.5" y1="1039.7" x2="930.5" y2="1643.7" stroke="#ebebeb" stroke-width="6"/>
<line x1="1013.5" y1="1039.7" x2="1013.5" y2="1643.7" stroke="#ebebeb" stroke-width="6"/>
<line x1="681.3" y1="1193.5" x2="681.3" y2="1344.8" stroke="#67146f" stroke-width="6"/>
<line x1="681.3" y1="1450.7" x2="681.3" y2="1544.5" stroke="#67146f" stroke-width="6"/>
<rect x="650.9" y="1344.8" width="61.7" height="105.9" fill="#8a3f95" stroke="#67146f" stroke-width="6" fill-opacity="0.75"/>
<line x1="647.9" y1="1402.5" x2="715.6" y2="1402.5" stroke="#67146f" stroke-width="12"/>
<line x1="764.3" y1="1173" x2="764.3" y2="1286.4" stroke="#9a45aa" stroke-width="6"/>
<line x1="764.3" y1="1429.3" x2="764.3" y2="1526.9" stroke="#9a45aa" stroke-width="6"/>
<rect x="733.9" y="1286.4" width="61.6" height="142.9" fill="#b57cc3" stroke="#9a45aa" stroke-width="6" fill-opacity="0.75"/>
<line x1="730.9" y1="1315.3" x2="798.5" y2="1315.3" stroke="#9a45aa" stroke-width="12"/>
<line x1="847.3" y1="1416.7" x2="847.3" y2="1433.7" stroke="#dea8f7" stroke-width="6"/>
<rect x="816.9" y="1338.4" width="61.9" height="78.3" fill="#e7c6f9" stroke="#dea8f7" stroke-width="6" fill-opacity="0.8"/>
<line x1="813.9" y1="1394.1" x2="881.8" y2="1394.1" stroke="#dea8f7" stroke-width="12"/>
<line x1="930.5" y1="1063.4" x2="930.5" y2="1194.9" stroke="#5ee8a8" stroke-width="6"/>
<line x1="930.5" y1="1372.7" x2="930.5" y2="1545" stroke="#5ee8a8" stroke-width="6"/>
<rect x="899.8" y="1194.9" width="61.4" height="177.8" fill="#7af3c2" stroke="#5ee8a8" stroke-width="6" fill-opacity="0.8"/>
<line x1="896.8" y1="1230.1" x2="964.2" y2="1230.1" stroke="#5ee8a8" stroke-width="12"/>
<line x1="1013.5" y1="1137.6" x2="1013.5" y2="1259.3" stroke="#48876e" stroke-width="6"/>
<line x1="1013.5" y1="1391.7" x2="1013.5" y2="1540" stroke="#48876e" stroke-width="6"/>
<rect x="983.1" y="1259.3" width="60.8" height="132.4" fill="#7aa795" stroke="#48876e" stroke-width="6" fill-opacity="0.8"/>
<line x1="980.1" y1="1311.1" x2="1046.9" y2="1311.1" stroke="#48876e" stroke-width="12"/>
<circle cx="688.3" cy="1160.5" r="5.2" fill="#67146f"/>
<circle cx="698.1" cy="1166.4" r="5.2" fill="#67146f"/>
<circle cx="668.1" cy="1193.2" r="5.2" fill="#67146f"/>
<circle cx="662.8" cy="1207.3" r="5.2" fill="#67146f"/>
<circle cx="682.8" cy="1257" r="5.2" fill="#67146f"/>
<circle cx="681.6" cy="1319.5" r="5.2" fill="#67146f"/>
<circle cx="684.9" cy="1326.5" r="5.2" fill="#67146f"/>
<circle cx="705.8" cy="1328.7" r="5.2" fill="#67146f"/>
<circle cx="688.5" cy="1339" r="5.2" fill="#67146f"/>
<circle cx="687.2" cy="1350.1" r="5.2" fill="#67146f"/>
<circle cx="659.9" cy="1359.3" r="5.2" fill="#67146f"/>
<circle cx="697.5" cy="1364.6" r="5.2" fill="#67146f"/>
<circle cx="670.2" cy="1374.6" r="5.2" fill="#67146f"/>
<circle cx="667.4" cy="1380.8" r="5.2" fill="#67146f"/>
<circle cx="679.4" cy="1378.8" r="5.2" fill="#67146f"/>
<circle cx="691.9" cy="1383.5" r="5.2" fill="#67146f"/>
<circle cx="688.5" cy="1387.7" r="5.2" fill="#67146f"/>
<circle cx="662.7" cy="1407.2" r="5.2" fill="#67146f"/>
<circle cx="669.6" cy="1420.3" r="5.2" fill="#67146f"/>
<circle cx="678.8" cy="1420.3" r="5.2" fill="#67146f"/>
<circle cx="689.7" cy="1414.2" r="5.2" fill="#67146f"/>
<circle cx="667.7" cy="1432.3" r="5.2" fill="#67146f"/>
<circle cx="671" cy="1434.2" r="5.2" fill="#67146f"/>
<circle cx="699.4" cy="1434.5" r="5.2" fill="#67146f"/>
<circle cx="698.9" cy="1467.9" r="5.2" fill="#67146f"/>
<circle cx="704.4" cy="1468.5" r="5.2" fill="#67146f"/>
<circle cx="687.7" cy="1475.4" r="5.2" fill="#67146f"/>
<circle cx="673.8" cy="1486" r="5.2" fill="#67146f"/>
<circle cx="658.5" cy="1497.7" r="5.2" fill="#67146f"/>
<circle cx="659" cy="1510.8" r="5.2" fill="#67146f"/>
<circle cx="682.1" cy="1533.9" r="5.2" fill="#67146f"/>
<circle cx="683.5" cy="1541.7" r="5.2" fill="#67146f"/>
<circle cx="691.3" cy="1545" r="5.2" fill="#67146f"/>
<circle cx="746.5" cy="1172" r="5.2" fill="#9a45aa"/>
<circle cx="782.5" cy="1231.8" r="5.2" fill="#9a45aa"/>
<circle cx="762.9" cy="1271" r="5.2" fill="#9a45aa"/>
<circle cx="760.9" cy="1301.4" r="5.2" fill="#9a45aa"/>
<circle cx="775.6" cy="1310.2" r="5.2" fill="#9a45aa"/>
<circle cx="765.7" cy="1369.6" r="5.2" fill="#9a45aa"/>
<circle cx="746.2" cy="1382.7" r="5.2" fill="#9a45aa"/>
<circle cx="747.6" cy="1476.8" r="5.2" fill="#9a45aa"/>
<circle cx="774" cy="1476.8" r="5.2" fill="#9a45aa"/>
<circle cx="762.9" cy="1526.9" r="5.2" fill="#9a45aa"/>
<circle cx="824.2" cy="1336.2" r="5.2" fill="#dea8f7"/>
<circle cx="859.5" cy="1336.2" r="5.2" fill="#dea8f7"/>
<circle cx="866.8" cy="1416.4" r="5.2" fill="#dea8f7"/>
<circle cx="865.9" cy="1434.2" r="5.2" fill="#dea8f7"/>
<circle cx="918.1" cy="1062.5" r="5.2" fill="#5ee8a8"/>
<circle cx="918.8" cy="1164.1" r="5.2" fill="#5ee8a8"/>
<circle cx="942.3" cy="1173.9" r="5.2" fill="#5ee8a8"/>
<circle cx="922.7" cy="1194.2" r="5.2" fill="#5ee8a8"/>
<circle cx="932.5" cy="1189.3" r="5.2" fill="#5ee8a8"/>
<circle cx="953.8" cy="1207.9" r="5.2" fill="#5ee8a8"/>
<circle cx="927.9" cy="1216.4" r="5.2" fill="#5ee8a8"/>
<circle cx="939.1" cy="1223.6" r="5.2" fill="#5ee8a8"/>
<circle cx="926.3" cy="1238.3" r="5.2" fill="#5ee8a8"/>
<circle cx="911.9" cy="1312.5" r="5.2" fill="#5ee8a8"/>
<circle cx="914.1" cy="1334.8" r="5.2" fill="#5ee8a8"/>
<circle cx="951.4" cy="1366.8" r="5.2" fill="#5ee8a8"/>
<circle cx="914.6" cy="1394.1" r="5.2" fill="#5ee8a8"/>
<circle cx="941.7" cy="1440.1" r="5.2" fill="#5ee8a8"/>
<circle cx="954.5" cy="1446.2" r="5.2" fill="#5ee8a8"/>
<circle cx="922.2" cy="1545" r="5.2" fill="#5ee8a8"/>
<circle cx="1006.1" cy="1137" r="5.2" fill="#48876e"/>
<circle cx="1032.5" cy="1168.7" r="5.2" fill="#48876e"/>
<circle cx="1020.1" cy="1190.9" r="5.2" fill="#48876e"/>
<circle cx="1008.7" cy="1214.5" r="5.2" fill="#48876e"/>
<circle cx="1002.1" cy="1222.6" r="5.2" fill="#48876e"/>
<circle cx="1034.2" cy="1249.1" r="5.2" fill="#48876e"/>
<circle cx="1011.9" cy="1251.4" r="5.2" fill="#48876e"/>
<circle cx="1000.5" cy="1261.2" r="5.2" fill="#48876e"/>
<circle cx="998.9" cy="1271.7" r="5.2" fill="#48876e"/>
<circle cx="1008" cy="1270" r="5.2" fill="#48876e"/>
<circle cx="1011.3" cy="1277.5" r="5.2" fill="#48876e"/>
<circle cx="993.3" cy="1283.1" r="5.2" fill="#48876e"/>
<circle cx="1026" cy="1283.1" r="5.2" fill="#48876e"/>
<circle cx="1026.7" cy="1313.5" r="5.2" fill="#48876e"/>
<circle cx="1007.9" cy="1328.7" r="5.2" fill="#48876e"/>
<circle cx="1038.6" cy="1329.2" r="5.2" fill="#48876e"/>
<circle cx="1014.9" cy="1346.8" r="5.2" fill="#48876e"/>
<circle cx="999" cy="1353.7" r="5.2" fill="#48876e"/>
<circle cx="1023.8" cy="1370.2" r="5.2" fill="#48876e"/>
<circle cx="1036.3" cy="1388.5" r="5.2" fill="#48876e"/>
<circle cx="1005.1" cy="1404.4" r="5.2" fill="#48876e"/>
<circle cx="1013.5" cy="1439.2" r="5.2" fill="#48876e"/>
<circle cx="1007.9" cy="1453.1" r="5.2" fill="#48876e"/>
<circle cx="1001" cy="1486.6" r="5.2" fill="#48876e"/>
<circle cx="1026.9" cy="1494.4" r="5.2" fill="#48876e"/>
<circle cx="1037.2" cy="1540" r="5.2" fill="#48876e"/>
<circle cx="1004.3" cy="1620.8" r="5.2" fill="#48876e"/>
<rect x="633.6" y="1036.2" width="427.6" height="611" fill="none" stroke="#262626" stroke-width="3"/>
<line x1="620.1" y1="1620.8" x2="632.1" y2="1620.8" stroke="#262626" stroke-width="6"/>
<text x="608.7" y="1633.1" font-size="31.2" fill="#3c3c3c" text-anchor="end" textLength="17" lengthAdjust="spacingAndGlyphs">0</text>
<line x1="620.1" y1="1469.8" x2="632.1" y2="1469.8" stroke="#262626" stroke-width="6"/>
<text x="608.7" y="1482.1" font-size="31.2" fill="#3c3c3c" text-anchor="end" textLength="17" lengthAdjust="spacingAndGlyphs">1</text>
<line x1="620.1" y1="1318.8" x2="632.1" y2="1318.8" stroke="#262626" stroke-width="6"/>
<text x="608.7" y="1331.1" font-size="31.2" fill="#3c3c3c" text-anchor="end" textLength="17" lengthAdjust="spacingAndGlyphs">2</text>
<line x1="620.1" y1="1167.8" x2="632.1" y2="1167.8" stroke="#262626" stroke-width="6"/>
<text x="608.7" y="1180.1" font-size="31.2" fill="#3c3c3c" text-anchor="end" textLength="17" lengthAdjust="spacingAndGlyphs">3</text>
<line x1="681.3" y1="1648.7" x2="681.3" y2="1660.7" stroke="#262626" stroke-width="6"/>
<line x1="764.3" y1="1648.7" x2="764.3" y2="1660.7" stroke="#262626" stroke-width="6"/>
<line x1="847.3" y1="1648.7" x2="847.3" y2="1660.7" stroke="#262626" stroke-width="6"/>
<line x1="930.5" y1="1648.7" x2="930.5" y2="1660.7" stroke="#262626" stroke-width="6"/>
<line x1="1013.5" y1="1648.7" x2="1013.5" y2="1660.7" stroke="#262626" stroke-width="6"/>
<text x="707.3" y="1688.9" font-size="31.6" fill="#3c3c3c" text-anchor="end" textLength="97.5" lengthAdjust="spacingAndGlyphs" transform="rotate(-45 707.3 1688.9)">Frontal</text>
<text x="790.3" y="1688.9" font-size="31.6" fill="#3c3c3c" text-anchor="end" textLength="128.7" lengthAdjust="spacingAndGlyphs" transform="rotate(-45 790.3 1688.9)">Temporal</text>
<text x="873.3" y="1688.9" font-size="31.6" fill="#3c3c3c" text-anchor="end" textLength="104.6" lengthAdjust="spacingAndGlyphs" transform="rotate(-45 873.3 1688.9)">Parietal</text>
<text x="956.5" y="1688.9" font-size="31.6" fill="#3c3c3c" text-anchor="end" textLength="119.8" lengthAdjust="spacingAndGlyphs" transform="rotate(-45 956.5 1688.9)">Occipital</text>
<text x="1041.6" y="1686.8" font-size="31.6" fill="#3c3c3c" text-anchor="end" textLength="158.8" lengthAdjust="spacingAndGlyphs" transform="rotate(-45 1041.6 1686.8)">Cerebellum</text>
<text x="747.8" y="969.3" font-size="24.5" fill="#000" text-anchor="start" textLength="98.4" lengthAdjust="spacingAndGlyphs"><tspan font-style="italic">P</tspan> = 0.008</text>
<polyline points="678.5,987.6 678.5,977.8 919.4,977.8 919.4,987.6" fill="none" stroke="#000" stroke-width="1.8"/>
<text x="791.3" y="1006.2" font-size="24.5" fill="#000" text-anchor="start" textLength="98.1" lengthAdjust="spacingAndGlyphs"><tspan font-style="italic">P</tspan> = 0.042</text>
<polyline points="678.5,1024.2 678.5,1014.7 1003.1,1014.7 1003.1,1024.2" fill="none" stroke="#000" stroke-width="1.8"/>
<text x="568.8" y="1528.9" font-size="42.3" fill="#000" text-anchor="start" textLength="340.8" lengthAdjust="spacingAndGlyphs" transform="rotate(-90 568.8 1528.9)">Shannon Diversity</text>
<text x="533.5" y="967" font-size="66" fill="#000">d</text>
<rect x="1250" y="1032.8" width="307.5" height="621.7" fill="#fff" stroke="none" stroke-width="0"/>
<line x1="1253.5" y1="1562.7" x2="1554" y2="1562.7" stroke="#ebebeb" stroke-width="3.5"/>
<line x1="1253.5" y1="1418.2" x2="1554" y2="1418.2" stroke="#ebebeb" stroke-width="3.5"/>
<line x1="1253.5" y1="1273.8" x2="1554" y2="1273.8" stroke="#ebebeb" stroke-width="3.5"/>
<line x1="1253.5" y1="1129.3" x2="1554" y2="1129.3" stroke="#ebebeb" stroke-width="3.5"/>
<line x1="1253.5" y1="1634.9" x2="1554" y2="1634.9" stroke="#ebebeb" stroke-width="6"/>
<line x1="1253.5" y1="1490.5" x2="1554" y2="1490.5" stroke="#ebebeb" stroke-width="6"/>
<line x1="1253.5" y1="1346" x2="1554" y2="1346" stroke="#ebebeb" stroke-width="6"/>
<line x1="1253.5" y1="1201.6" x2="1554" y2="1201.6" stroke="#ebebeb" stroke-width="6"/>
<line x1="1253.5" y1="1057.1" x2="1554" y2="1057.1" stroke="#ebebeb" stroke-width="6"/>
<line x1="1307" y1="1036.3" x2="1307" y2="1651" stroke="#ebebeb" stroke-width="6"/>
<line x1="1402.9" y1="1036.3" x2="1402.9" y2="1651" stroke="#ebebeb" stroke-width="6"/>
<line x1="1500.2" y1="1036.3" x2="1500.2" y2="1651" stroke="#ebebeb" stroke-width="6"/>
<line x1="1307" y1="1468.6" x2="1307" y2="1537.2" stroke="#67146f" stroke-width="6"/>
<line x1="1307" y1="1589.8" x2="1307" y2="1619.3" stroke="#67146f" stroke-width="6"/>
<polygon points="1270.9,1537.2 1270.9,1571 1289,1588.2 1270.9,1605.5 1270.9,1589.8 1343.1,1589.8 1343.1,1605.5 1325,1588.2 1343.1,1571 1343.1,1537.2" fill="#8a3f95" stroke="#67146f" stroke-width="6" fill-opacity="0.75" stroke-linejoin="miter" stroke-miterlimit="1.5"/>
<line x1="1287" y1="1588.2" x2="1327" y2="1588.2" stroke="#67146f" stroke-width="12"/>
<line x1="1402.9" y1="1461.7" x2="1402.9" y2="1539.5" stroke="#c077dd" stroke-width="6"/>
<line x1="1402.9" y1="1589.8" x2="1402.9" y2="1611.2" stroke="#c077dd" stroke-width="6"/>
<polygon points="1367.2,1539.5 1367.2,1539 1385,1561.1 1367.2,1583.6 1367.2,1589.8 1438.7,1589.8 1438.7,1583.6 1420.8,1561.1 1438.7,1539 1438.7,1539.5" fill="#d4a6ea" stroke="#c077dd" stroke-width="6" fill-opacity="0.75" stroke-linejoin="miter" stroke-miterlimit="1.5"/>
<line x1="1383" y1="1561.1" x2="1422.8" y2="1561.1" stroke="#c077dd" stroke-width="12"/>
<line x1="1500.2" y1="1238.5" x2="1500.2" y2="1429.8" stroke="#49a380" stroke-width="6"/>
<line x1="1500.2" y1="1575.3" x2="1500.2" y2="1626.2" stroke="#49a380" stroke-width="6"/>
<polygon points="1464.5,1429.8 1464.5,1492.8 1482.3,1525.7 1464.5,1557.2 1464.5,1575.3 1536,1575.3 1536,1557.2 1518.1,1525.7 1536,1492.8 1536,1429.8" fill="#6fc7a4" stroke="#49a380" stroke-width="6" fill-opacity="0.75" stroke-linejoin="miter" stroke-miterlimit="1.5"/>
<line x1="1480.3" y1="1525.7" x2="1520.1" y2="1525.7" stroke="#49a380" stroke-width="12"/>
<circle cx="1310.9" cy="1381.2" r="5.2" fill="#67146f"/>
<circle cx="1318.9" cy="1380.1" r="5.2" fill="#67146f"/>
<circle cx="1310.4" cy="1470.9" r="5.2" fill="#67146f"/>
<circle cx="1314.3" cy="1473.9" r="5.2" fill="#67146f"/>
<circle cx="1332.7" cy="1484.7" r="5.2" fill="#67146f"/>
<circle cx="1298.4" cy="1492.1" r="5.2" fill="#67146f"/>
<circle cx="1334.6" cy="1513.5" r="5.2" fill="#67146f"/>
<circle cx="1278.7" cy="1523.8" r="5.2" fill="#67146f"/>
<circle cx="1316.9" cy="1531.2" r="5.2" fill="#67146f"/>
<circle cx="1329.5" cy="1541.1" r="5.2" fill="#67146f"/>
<circle cx="1301.2" cy="1549.1" r="5.2" fill="#67146f"/>
<circle cx="1319.6" cy="1556.7" r="5.2" fill="#67146f"/>
<circle cx="1285.8" cy="1563.6" r="5.2" fill="#67146f"/>
<circle cx="1284" cy="1573.3" r="5.2" fill="#67146f"/>
<circle cx="1298.9" cy="1574" r="5.2" fill="#67146f"/>
<circle cx="1308.1" cy="1574.4" r="5.2" fill="#67146f"/>
<circle cx="1292" cy="1581.3" r="5.2" fill="#67146f"/>
<circle cx="1305.8" cy="1584.8" r="5.2" fill="#67146f"/>
<circle cx="1317.3" cy="1585.9" r="5.2" fill="#67146f"/>
<circle cx="1325.4" cy="1588.2" r="5.2" fill="#67146f"/>
<circle cx="1281.7" cy="1594" r="5.2" fill="#67146f"/>
<circle cx="1313.9" cy="1595.1" r="5.2" fill="#67146f"/>
<circle cx="1321.9" cy="1597.4" r="5.2" fill="#67146f"/>
<circle cx="1293.8" cy="1603.2" r="5.2" fill="#67146f"/>
<circle cx="1305.3" cy="1606.6" r="5.2" fill="#67146f"/>
<circle cx="1315" cy="1604.8" r="5.2" fill="#67146f"/>
<circle cx="1326.5" cy="1603.9" r="5.2" fill="#67146f"/>
<circle cx="1326.5" cy="1611.9" r="5.2" fill="#67146f"/>
<circle cx="1320.8" cy="1620.9" r="5.2" fill="#67146f"/>
<circle cx="1379" cy="1412.3" r="5.2" fill="#c077dd"/>
<circle cx="1427.7" cy="1461" r="5.2" fill="#c077dd"/>
<circle cx="1421.3" cy="1469.1" r="5.2" fill="#c077dd"/>
<circle cx="1377.8" cy="1535.3" r="5.2" fill="#c077dd"/>
<circle cx="1396.7" cy="1546.4" r="5.2" fill="#c077dd"/>
<circle cx="1381.7" cy="1554.2" r="5.2" fill="#c077dd"/>
<circle cx="1428.9" cy="1553.7" r="5.2" fill="#c077dd"/>
<circle cx="1417.4" cy="1568.7" r="5.2" fill="#c077dd"/>
<circle cx="1427.7" cy="1574.4" r="5.2" fill="#c077dd"/>
<circle cx="1385.2" cy="1585.9" r="5.2" fill="#c077dd"/>
<circle cx="1377.1" cy="1592.8" r="5.2" fill="#c077dd"/>
<circle cx="1425.4" cy="1600.4" r="5.2" fill="#c077dd"/>
<circle cx="1399.7" cy="1610.8" r="5.2" fill="#c077dd"/>
<circle cx="1425.4" cy="1613.1" r="5.2" fill="#c077dd"/>
<circle cx="1472.8" cy="1059.8" r="5.2" fill="#49a380"/>
<circle cx="1511.5" cy="1133.9" r="5.2" fill="#49a380"/>
<circle cx="1504.8" cy="1160.6" r="5.2" fill="#49a380"/>
<circle cx="1491.7" cy="1239.4" r="5.2" fill="#49a380"/>
<circle cx="1512.1" cy="1295.4" r="5.2" fill="#49a380"/>
<circle cx="1503.6" cy="1355.2" r="5.2" fill="#49a380"/>
<circle cx="1511" cy="1369.2" r="5.2" fill="#49a380"/>
<circle cx="1521.6" cy="1381.2" r="5.2" fill="#49a380"/>
<circle cx="1490.5" cy="1391.1" r="5.2" fill="#49a380"/>
<circle cx="1475.6" cy="1410" r="5.2" fill="#49a380"/>
<circle cx="1526.6" cy="1420.8" r="5.2" fill="#49a380"/>
<circle cx="1512.8" cy="1432.3" r="5.2" fill="#49a380"/>
<circle cx="1522.7" cy="1439.9" r="5.2" fill="#49a380"/>
<circle cx="1528.2" cy="1461.7" r="5.2" fill="#49a380"/>
<circle cx="1503.6" cy="1465.9" r="5.2" fill="#49a380"/>
<circle cx="1512.1" cy="1483.6" r="5.2" fill="#49a380"/>
<circle cx="1474.2" cy="1490.9" r="5.2" fill="#49a380"/>
<circle cx="1489.1" cy="1505" r="5.2" fill="#49a380"/>
<circle cx="1485.2" cy="1513" r="5.2" fill="#49a380"/>
<circle cx="1512.1" cy="1520.4" r="5.2" fill="#49a380"/>
<circle cx="1526.6" cy="1523.8" r="5.2" fill="#49a380"/>
<circle cx="1516.3" cy="1530.7" r="5.2" fill="#49a380"/>
<circle cx="1521.3" cy="1538.8" r="5.2" fill="#49a380"/>
<circle cx="1473.3" cy="1553.7" r="5.2" fill="#49a380"/>
<circle cx="1489.4" cy="1550.3" r="5.2" fill="#49a380"/>
<circle cx="1509.4" cy="1550.3" r="5.2" fill="#49a380"/>
<circle cx="1489.1" cy="1562.5" r="5.2" fill="#49a380"/>
<circle cx="1516.7" cy="1564.1" r="5.2" fill="#49a380"/>
<circle cx="1487.5" cy="1577.9" r="5.2" fill="#49a380"/>
<circle cx="1496.7" cy="1574.4" r="5.2" fill="#49a380"/>
<circle cx="1511.7" cy="1580.2" r="5.2" fill="#49a380"/>
<circle cx="1476.7" cy="1583.2" r="5.2" fill="#49a380"/>
<circle cx="1477.2" cy="1593.3" r="5.2" fill="#49a380"/>
<circle cx="1496.7" cy="1597.4" r="5.2" fill="#49a380"/>
<circle cx="1507.1" cy="1597.9" r="5.2" fill="#49a380"/>
<circle cx="1499" cy="1604.3" r="5.2" fill="#49a380"/>
<circle cx="1512.4" cy="1605.5" r="5.2" fill="#49a380"/>
<circle cx="1499.7" cy="1615.8" r="5.2" fill="#49a380"/>
<circle cx="1478.3" cy="1619.3" r="5.2" fill="#49a380"/>
<circle cx="1480.2" cy="1626.2" r="5.2" fill="#49a380"/>
<rect x="1250" y="1032.8" width="307.5" height="621.7" fill="none" stroke="#262626" stroke-width="3"/>
<line x1="1236.5" y1="1634.9" x2="1248.5" y2="1634.9" stroke="#262626" stroke-width="6"/>
<text x="1226.8" y="1647.2" font-size="31.2" fill="#3c3c3c" text-anchor="end" textLength="17" lengthAdjust="spacingAndGlyphs">0</text>
<line x1="1236.5" y1="1490.5" x2="1248.5" y2="1490.5" stroke="#262626" stroke-width="6"/>
<text x="1226.8" y="1502.7" font-size="31.2" fill="#3c3c3c" text-anchor="end" textLength="34" lengthAdjust="spacingAndGlyphs">20</text>
<line x1="1236.5" y1="1346" x2="1248.5" y2="1346" stroke="#262626" stroke-width="6"/>
<text x="1226.8" y="1358.3" font-size="31.2" fill="#3c3c3c" text-anchor="end" textLength="34" lengthAdjust="spacingAndGlyphs">40</text>
<line x1="1236.5" y1="1201.6" x2="1248.5" y2="1201.6" stroke="#262626" stroke-width="6"/>
<text x="1226.8" y="1213.8" font-size="31.2" fill="#3c3c3c" text-anchor="end" textLength="34" lengthAdjust="spacingAndGlyphs">60</text>
<line x1="1236.5" y1="1057.1" x2="1248.5" y2="1057.1" stroke="#262626" stroke-width="6"/>
<text x="1226.8" y="1069.4" font-size="31.2" fill="#3c3c3c" text-anchor="end" textLength="34" lengthAdjust="spacingAndGlyphs">80</text>
<line x1="1307" y1="1656" x2="1307" y2="1668" stroke="#262626" stroke-width="6"/>
<line x1="1402.9" y1="1656" x2="1402.9" y2="1668" stroke="#262626" stroke-width="6"/>
<line x1="1500.2" y1="1656" x2="1500.2" y2="1668" stroke="#262626" stroke-width="6"/>
<text x="1330.3" y="1695.3" font-size="31.6" fill="#3c3c3c" text-anchor="end" textLength="97.5" lengthAdjust="spacingAndGlyphs" transform="rotate(-45 1330.3 1695.3)">Frontal</text>
<text x="1432.6" y="1688.9" font-size="31.6" fill="#3c3c3c" text-anchor="end" textLength="133.4" lengthAdjust="spacingAndGlyphs" transform="rotate(-45 1432.6 1688.9)">Mid brain</text>
<text x="1526.3" y="1692.5" font-size="31.6" fill="#3c3c3c" text-anchor="end" textLength="125.1" lengthAdjust="spacingAndGlyphs" transform="rotate(-45 1526.3 1692.5)">Posterior</text>
<text x="1348.8" y="1095.3" font-size="24.5" fill="#000" text-anchor="start" textLength="98.7" lengthAdjust="spacingAndGlyphs"><tspan font-style="italic">P</tspan> = 0.002</text>
<line x1="1302.3" y1="1107.7" x2="1499.3" y2="1107.7" stroke="#000" stroke-width="3"/>
<text x="1401.1" y="1206.5" font-size="24.5" fill="#000" text-anchor="start" textLength="98.8" lengthAdjust="spacingAndGlyphs"><tspan font-style="italic">P</tspan> = 0.009</text>
<line x1="1400.5" y1="1218.7" x2="1501.3" y2="1218.7" stroke="#000" stroke-width="3"/>
<text x="1303.1" y="1322.8" font-size="24.5" fill="#000" text-anchor="start" textLength="98.8" lengthAdjust="spacingAndGlyphs"><tspan font-style="italic">P</tspan> = 0.695</text>
<line x1="1302.3" y1="1335" x2="1404" y2="1335" stroke="#000" stroke-width="3"/>
<text x="1170" y="1630.6" font-size="39.1" fill="#000" text-anchor="start" textLength="524.5" lengthAdjust="spacingAndGlyphs" transform="rotate(-90 1170 1630.6)">Number of species per sample</text>
<text x="1107.5" y="968.3" font-size="66" fill="#000">e</text>
<rect x="1676.2" y="1035" width="319.7" height="622.3" fill="#fff" stroke="none" stroke-width="0"/>
<line x1="1679.7" y1="1569.6" x2="1992.4" y2="1569.6" stroke="#ebebeb" stroke-width="3.5"/>
<line x1="1679.7" y1="1448.7" x2="1992.4" y2="1448.7" stroke="#ebebeb" stroke-width="3.5"/>
<line x1="1679.7" y1="1327.7" x2="1992.4" y2="1327.7" stroke="#ebebeb" stroke-width="3.5"/>
<line x1="1679.7" y1="1206.8" x2="1992.4" y2="1206.8" stroke="#ebebeb" stroke-width="3.5"/>
<line x1="1679.7" y1="1085.8" x2="1992.4" y2="1085.8" stroke="#ebebeb" stroke-width="3.5"/>
<line x1="1679.7" y1="1630.1" x2="1992.4" y2="1630.1" stroke="#ebebeb" stroke-width="6"/>
<line x1="1679.7" y1="1509.1" x2="1992.4" y2="1509.1" stroke="#ebebeb" stroke-width="6"/>
<line x1="1679.7" y1="1388.2" x2="1992.4" y2="1388.2" stroke="#ebebeb" stroke-width="6"/>
<line x1="1679.7" y1="1267.2" x2="1992.4" y2="1267.2" stroke="#ebebeb" stroke-width="6"/>
<line x1="1679.7" y1="1146.3" x2="1992.4" y2="1146.3" stroke="#ebebeb" stroke-width="6"/>
<line x1="1735.3" y1="1038.5" x2="1735.3" y2="1653.8" stroke="#ebebeb" stroke-width="6"/>
<line x1="1835.5" y1="1038.5" x2="1835.5" y2="1653.8" stroke="#ebebeb" stroke-width="6"/>
<line x1="1936" y1="1038.5" x2="1936" y2="1653.8" stroke="#ebebeb" stroke-width="6"/>
<line x1="1735.3" y1="1288.4" x2="1735.3" y2="1409.2" stroke="#67146f" stroke-width="6"/>
<line x1="1735.3" y1="1494" x2="1735.3" y2="1569.6" stroke="#67146f" stroke-width="6"/>
<rect x="1697.9" y="1409.2" width="74.5" height="84.8" fill="#8a3f95" stroke="#67146f" stroke-width="6" fill-opacity="0.75"/>
<line x1="1694.9" y1="1455.4" x2="1775.4" y2="1455.4" stroke="#67146f" stroke-width="12"/>
<line x1="1835.5" y1="1271.2" x2="1835.5" y2="1380.3" stroke="#c077dd" stroke-width="6"/>
<line x1="1835.5" y1="1470" x2="1835.5" y2="1554.4" stroke="#c077dd" stroke-width="6"/>
<rect x="1798.4" y="1380.3" width="74.5" height="89.7" fill="#d4a6ea" stroke="#c077dd" stroke-width="6" fill-opacity="0.75"/>
<line x1="1795.4" y1="1416" x2="1875.9" y2="1416" stroke="#c077dd" stroke-width="12"/>
<line x1="1936" y1="1182.2" x2="1936" y2="1310.6" stroke="#49a380" stroke-width="6"/>
<line x1="1936" y1="1445.2" x2="1936" y2="1630.4" stroke="#49a380" stroke-width="6"/>
<rect x="1898.1" y="1310.6" width="75" height="134.6" fill="#6fc7a4" stroke="#49a380" stroke-width="6" fill-opacity="0.75"/>
<line x1="1895.1" y1="1370.1" x2="1976.1" y2="1370.1" stroke="#49a380" stroke-width="12"/>
<circle cx="1711.5" cy="1266.5" r="5.2" fill="#67146f"/>
<circle cx="1738.6" cy="1261.8" r="5.2" fill="#67146f"/>
<circle cx="1722.1" cy="1287.9" r="5.2" fill="#67146f"/>
<circle cx="1762.2" cy="1299.2" r="5.2" fill="#67146f"/>
<circle cx="1731.7" cy="1338.9" r="5.2" fill="#67146f"/>
<circle cx="1708.1" cy="1389.3" r="5.2" fill="#67146f"/>
<circle cx="1723" cy="1394.1" r="5.2" fill="#67146f"/>
<circle cx="1743" cy="1396.6" r="5.2" fill="#67146f"/>
<circle cx="1717.3" cy="1403.8" r="5.2" fill="#67146f"/>
<circle cx="1737" cy="1413.4" r="5.2" fill="#67146f"/>
<circle cx="1706.9" cy="1424.9" r="5.2" fill="#67146f"/>
<circle cx="1726.9" cy="1420.6" r="5.2" fill="#67146f"/>
<circle cx="1729.8" cy="1432.6" r="5.2" fill="#67146f"/>
<circle cx="1709.3" cy="1438.1" r="5.2" fill="#67146f"/>
<circle cx="1713" cy="1436.2" r="5.2" fill="#67146f"/>
<circle cx="1731" cy="1444.1" r="5.2" fill="#67146f"/>
<circle cx="1763.4" cy="1439.8" r="5.2" fill="#67146f"/>
<circle cx="1705.7" cy="1459" r="5.2" fill="#67146f"/>
<circle cx="1714.1" cy="1469.8" r="5.2" fill="#67146f"/>
<circle cx="1721.4" cy="1468.6" r="5.2" fill="#67146f"/>
<circle cx="1750.9" cy="1469.4" r="5.2" fill="#67146f"/>
<circle cx="1731" cy="1480.7" r="5.2" fill="#67146f"/>
<circle cx="1742.3" cy="1480.7" r="5.2" fill="#67146f"/>
<circle cx="1755" cy="1479" r="5.2" fill="#67146f"/>
<circle cx="1710.5" cy="1507.8" r="5.2" fill="#67146f"/>
<circle cx="1753.8" cy="1507.1" r="5.2" fill="#67146f"/>
<circle cx="1743.7" cy="1513.6" r="5.2" fill="#67146f"/>
<circle cx="1738.2" cy="1522.2" r="5.2" fill="#67146f"/>
<circle cx="1758.1" cy="1531.8" r="5.2" fill="#67146f"/>
<circle cx="1755.7" cy="1541.9" r="5.2" fill="#67146f"/>
<circle cx="1726.9" cy="1560.4" r="5.2" fill="#67146f"/>
<circle cx="1709.3" cy="1567.2" r="5.2" fill="#67146f"/>
<circle cx="1708.6" cy="1569.6" r="5.2" fill="#67146f"/>
<circle cx="1857.6" cy="1270.7" r="5.2" fill="#c077dd"/>
<circle cx="1845.1" cy="1318.5" r="5.2" fill="#c077dd"/>
<circle cx="1812" cy="1349.7" r="5.2" fill="#c077dd"/>
<circle cx="1818.7" cy="1374.2" r="5.2" fill="#c077dd"/>
<circle cx="1809.8" cy="1385.7" r="5.2" fill="#c077dd"/>
<circle cx="1822.3" cy="1382.1" r="5.2" fill="#c077dd"/>
<circle cx="1811" cy="1402.6" r="5.2" fill="#c077dd"/>
<circle cx="1829.5" cy="1403.8" r="5.2" fill="#c077dd"/>
<circle cx="1832.6" cy="1429" r="5.2" fill="#c077dd"/>
<circle cx="1844.6" cy="1439.8" r="5.2" fill="#c077dd"/>
<circle cx="1807.2" cy="1448.7" r="5.2" fill="#c077dd"/>
<circle cx="1820.4" cy="1466.2" r="5.2" fill="#c077dd"/>
<circle cx="1828.3" cy="1480.7" r="5.2" fill="#c077dd"/>
<circle cx="1841" cy="1514.3" r="5.2" fill="#c077dd"/>
<circle cx="1827.8" cy="1555.2" r="5.2" fill="#c077dd"/>
<circle cx="1932.3" cy="1182.2" r="5.2" fill="#49a380"/>
<circle cx="1917.1" cy="1242.5" r="5.2" fill="#49a380"/>
<circle cx="1922.6" cy="1264.6" r="5.2" fill="#49a380"/>
<circle cx="1919.5" cy="1272.1" r="5.2" fill="#49a380"/>
<circle cx="1927.8" cy="1267.9" r="5.2" fill="#49a380"/>
<circle cx="1965.3" cy="1284.8" r="5.2" fill="#49a380"/>
<circle cx="1929.2" cy="1289.1" r="5.2" fill="#49a380"/>
<circle cx="1928" cy="1300.4" r="5.2" fill="#49a380"/>
<circle cx="1923.2" cy="1312.4" r="5.2" fill="#49a380"/>
<circle cx="1911.2" cy="1324" r="5.2" fill="#49a380"/>
<circle cx="1948.5" cy="1334.1" r="5.2" fill="#49a380"/>
<circle cx="1964.8" cy="1332.4" r="5.2" fill="#49a380"/>
<circle cx="1911.7" cy="1342" r="5.2" fill="#49a380"/>
<circle cx="1946.8" cy="1349.7" r="5.2" fill="#49a380"/>
<circle cx="1950.9" cy="1350.9" r="5.2" fill="#49a380"/>
<circle cx="1918.4" cy="1355" r="5.2" fill="#49a380"/>
<circle cx="1912.4" cy="1359.3" r="5.2" fill="#49a380"/>
<circle cx="1933.6" cy="1379" r="5.2" fill="#49a380"/>
<circle cx="1911.7" cy="1383.8" r="5.2" fill="#49a380"/>
<circle cx="1948.5" cy="1383.8" r="5.2" fill="#49a380"/>
<circle cx="1920.3" cy="1396.6" r="5.2" fill="#49a380"/>
<circle cx="1938.8" cy="1397" r="5.2" fill="#49a380"/>
<circle cx="1955.2" cy="1401.4" r="5.2" fill="#49a380"/>
<circle cx="1956.9" cy="1411" r="5.2" fill="#49a380"/>
<circle cx="1952" cy="1415.8" r="5.2" fill="#49a380"/>
<circle cx="1941.7" cy="1426.6" r="5.2" fill="#49a380"/>
<circle cx="1958.8" cy="1429.5" r="5.2" fill="#49a380"/>
<circle cx="1911.2" cy="1444.6" r="5.2" fill="#49a380"/>
<circle cx="1964.1" cy="1448.9" r="5.2" fill="#49a380"/>
<circle cx="1958.1" cy="1457.4" r="5.2" fill="#49a380"/>
<circle cx="1916" cy="1485" r="5.2" fill="#49a380"/>
<circle cx="1920.3" cy="1486" r="5.2" fill="#49a380"/>
<circle cx="1964.6" cy="1490.8" r="5.2" fill="#49a380"/>
<circle cx="1954.5" cy="1496.3" r="5.2" fill="#49a380"/>
<circle cx="1918.4" cy="1528.7" r="5.2" fill="#49a380"/>
<circle cx="1946.8" cy="1523.2" r="5.2" fill="#49a380"/>
<circle cx="1917.7" cy="1566" r="5.2" fill="#49a380"/>
<circle cx="1930.4" cy="1569.6" r="5.2" fill="#49a380"/>
<circle cx="1952.8" cy="1630.1" r="5.2" fill="#49a380"/>
<rect x="1676.2" y="1035" width="319.7" height="622.3" fill="none" stroke="#262626" stroke-width="3"/>
<line x1="1662.7" y1="1630.1" x2="1674.7" y2="1630.1" stroke="#262626" stroke-width="6"/>
<text x="1653.5" y="1642.4" font-size="31.2" fill="#3c3c3c" text-anchor="end" textLength="17" lengthAdjust="spacingAndGlyphs">0</text>
<line x1="1662.7" y1="1509.1" x2="1674.7" y2="1509.1" stroke="#262626" stroke-width="6"/>
<text x="1653.5" y="1521.4" font-size="31.2" fill="#3c3c3c" text-anchor="end" textLength="17" lengthAdjust="spacingAndGlyphs">1</text>
<line x1="1662.7" y1="1388.2" x2="1674.7" y2="1388.2" stroke="#262626" stroke-width="6"/>
<text x="1653.5" y="1400.5" font-size="31.2" fill="#3c3c3c" text-anchor="end" textLength="17" lengthAdjust="spacingAndGlyphs">2</text>
<line x1="1662.7" y1="1267.2" x2="1674.7" y2="1267.2" stroke="#262626" stroke-width="6"/>
<text x="1653.5" y="1279.5" font-size="31.2" fill="#3c3c3c" text-anchor="end" textLength="17" lengthAdjust="spacingAndGlyphs">3</text>
<line x1="1662.7" y1="1146.3" x2="1674.7" y2="1146.3" stroke="#262626" stroke-width="6"/>
<text x="1653.5" y="1158.6" font-size="31.2" fill="#3c3c3c" text-anchor="end" textLength="17" lengthAdjust="spacingAndGlyphs">4</text>
<line x1="1735.3" y1="1658.8" x2="1735.3" y2="1670.8" stroke="#262626" stroke-width="6"/>
<line x1="1835.5" y1="1658.8" x2="1835.5" y2="1670.8" stroke="#262626" stroke-width="6"/>
<line x1="1936" y1="1658.8" x2="1936" y2="1670.8" stroke="#262626" stroke-width="6"/>
<text x="1758.6" y="1698.1" font-size="31.6" fill="#3c3c3c" text-anchor="end" textLength="97.5" lengthAdjust="spacingAndGlyphs" transform="rotate(-45 1758.6 1698.1)">Frontal</text>
<text x="1865.2" y="1691.7" font-size="31.6" fill="#3c3c3c" text-anchor="end" textLength="133.4" lengthAdjust="spacingAndGlyphs" transform="rotate(-45 1865.2 1691.7)">Mid brain</text>
<text x="1962.1" y="1695.3" font-size="31.6" fill="#3c3c3c" text-anchor="end" textLength="125.1" lengthAdjust="spacingAndGlyphs" transform="rotate(-45 1962.1 1695.3)">Posterior</text>
<text x="1788.4" y="1082" font-size="24.5" fill="#000" text-anchor="start" textLength="98.2" lengthAdjust="spacingAndGlyphs"><tspan font-style="italic">P</tspan> = 0.003</text>
<line x1="1741.9" y1="1095" x2="1939.2" y2="1095" stroke="#000" stroke-width="3"/>
<text x="1838.8" y="1142" font-size="24.5" fill="#000" text-anchor="start" textLength="99.5" lengthAdjust="spacingAndGlyphs"><tspan font-style="italic">P</tspan> = 0.129</text>
<line x1="1837.4" y1="1155.1" x2="1941.1" y2="1155.1" stroke="#000" stroke-width="3"/>
<text x="1740.6" y="1202.4" font-size="24.5" fill="#000" text-anchor="start" textLength="99" lengthAdjust="spacingAndGlyphs"><tspan font-style="italic">P</tspan> = 0.331</text>
<line x1="1740.6" y1="1215.4" x2="1841.5" y2="1215.4" stroke="#000" stroke-width="3"/>
<text x="1613.7" y="1528.3" font-size="41.4" fill="#000" text-anchor="start" textLength="329.5" lengthAdjust="spacingAndGlyphs" transform="rotate(-90 1613.7 1528.3)">Shannon Diversity</text>
<text x="1596" y="966.9" font-size="66" fill="#000">f</text>
<text x="0" y="1957.2" font-size="66" fill="#000">g</text>
<rect x="98.6" y="2087.9" width="278.6" height="537.1" fill="none" stroke="#111" stroke-width="2.4"/>
<text x="74.2" y="2194.2" font-size="32.6" fill="#3c3c3c" text-anchor="end" textLength="35.5" lengthAdjust="spacingAndGlyphs">50</text>
<text x="396.5" y="2194.2" font-size="32.6" fill="#3c3c3c" text-anchor="start" textLength="35.5" lengthAdjust="spacingAndGlyphs">50</text>
<text x="74.2" y="2285" font-size="32.6" fill="#3c3c3c" text-anchor="end" textLength="35.5" lengthAdjust="spacingAndGlyphs">40</text>
<text x="396.5" y="2285" font-size="32.6" fill="#3c3c3c" text-anchor="start" textLength="35.5" lengthAdjust="spacingAndGlyphs">40</text>
<text x="74.2" y="2376.2" font-size="32.6" fill="#3c3c3c" text-anchor="end" textLength="35.5" lengthAdjust="spacingAndGlyphs">30</text>
<text x="396.5" y="2376.2" font-size="32.6" fill="#3c3c3c" text-anchor="start" textLength="35.5" lengthAdjust="spacingAndGlyphs">30</text>
<text x="74.2" y="2465.5" font-size="32.6" fill="#3c3c3c" text-anchor="end" textLength="35.5" lengthAdjust="spacingAndGlyphs">20</text>
<text x="396.5" y="2465.5" font-size="32.6" fill="#3c3c3c" text-anchor="start" textLength="35.5" lengthAdjust="spacingAndGlyphs">20</text>
<text x="74.2" y="2554.8" font-size="32.6" fill="#3c3c3c" text-anchor="end" textLength="35.5" lengthAdjust="spacingAndGlyphs">10</text>
<text x="396.5" y="2554.8" font-size="32.6" fill="#3c3c3c" text-anchor="start" textLength="35.5" lengthAdjust="spacingAndGlyphs">10</text>
<text x="74.2" y="2644.1" font-size="32.6" fill="#3c3c3c" text-anchor="end" textLength="17.7" lengthAdjust="spacingAndGlyphs">0</text>
<text x="396.5" y="2644.1" font-size="32.6" fill="#3c3c3c" text-anchor="start" textLength="17.7" lengthAdjust="spacingAndGlyphs">0</text>
<line x1="98.5" y1="2423.8" x2="376.8" y2="2190.2" stroke="#1e1e1e" stroke-width="5"/>
<line x1="98.5" y1="2478.2" x2="376.8" y2="2441.9" stroke="#1e1e1e" stroke-width="5"/>
<line x1="98.5" y1="2612" x2="376.8" y2="2585.1" stroke="#1e1e1e" stroke-width="5"/>
<circle cx="98.5" cy="2423.8" r="13.2" fill="#9b2bbf" stroke="#111" stroke-width="2.4"/>
<circle cx="98.5" cy="2478.2" r="13.2" fill="#9b2bbf" stroke="#111" stroke-width="2.4"/>
<circle cx="98.5" cy="2612" r="13.2" fill="#9b2bbf" stroke="#111" stroke-width="2.4"/>
<circle cx="376.8" cy="2190.2" r="13.2" fill="#46a07e" stroke="#111" stroke-width="2.4"/>
<circle cx="376.8" cy="2441.9" r="13.2" fill="#46a07e" stroke="#111" stroke-width="2.4"/>
<circle cx="376.8" cy="2585.1" r="13.2" fill="#46a07e" stroke="#111" stroke-width="2.4"/>
<text x="30.3" y="2614" font-size="39.1" fill="#9a2cbd" text-anchor="start" textLength="477.1" lengthAdjust="spacingAndGlyphs" transform="rotate(-90 30.3 2614)">Number of species anterior</text>
<text x="444.9" y="2121" font-size="39.1" fill="#3f9e79" text-anchor="start" textLength="496.9" lengthAdjust="spacingAndGlyphs" transform="rotate(90 444.9 2121)">Number of species posterior</text>
<rect x="589.1" y="2015.3" width="648.4" height="629.4" fill="#fff" stroke="none" stroke-width="0"/>
<line x1="592.6" y1="2580.5" x2="1234" y2="2580.5" stroke="#ebebeb" stroke-width="3.5"/>
<line x1="592.6" y1="2461.6" x2="1234" y2="2461.6" stroke="#ebebeb" stroke-width="3.5"/>
<line x1="592.6" y1="2342.8" x2="1234" y2="2342.8" stroke="#ebebeb" stroke-width="3.5"/>
<line x1="592.6" y1="2223.9" x2="1234" y2="2223.9" stroke="#ebebeb" stroke-width="3.5"/>
<line x1="592.6" y1="2105" x2="1234" y2="2105" stroke="#ebebeb" stroke-width="3.5"/>
<line x1="754.2" y1="2018.8" x2="754.2" y2="2641.2" stroke="#ebebeb" stroke-width="3.5"/>
<line x1="935.8" y1="2018.8" x2="935.8" y2="2641.2" stroke="#ebebeb" stroke-width="3.5"/>
<line x1="1117.4" y1="2018.8" x2="1117.4" y2="2641.2" stroke="#ebebeb" stroke-width="3.5"/>
<line x1="592.6" y1="2639.9" x2="1234" y2="2639.9" stroke="#ebebeb" stroke-width="6"/>
<line x1="592.6" y1="2521" x2="1234" y2="2521" stroke="#ebebeb" stroke-width="6"/>
<line x1="592.6" y1="2402.2" x2="1234" y2="2402.2" stroke="#ebebeb" stroke-width="6"/>
<line x1="592.6" y1="2283.3" x2="1234" y2="2283.3" stroke="#ebebeb" stroke-width="6"/>
<line x1="592.6" y1="2164.5" x2="1234" y2="2164.5" stroke="#ebebeb" stroke-width="6"/>
<line x1="592.6" y1="2045.6" x2="1234" y2="2045.6" stroke="#ebebeb" stroke-width="6"/>
<line x1="663.4" y1="2018.8" x2="663.4" y2="2641.2" stroke="#ebebeb" stroke-width="6"/>
<line x1="845" y1="2018.8" x2="845" y2="2641.2" stroke="#ebebeb" stroke-width="6"/>
<line x1="1026.6" y1="2018.8" x2="1026.6" y2="2641.2" stroke="#ebebeb" stroke-width="6"/>
<line x1="1208.2" y1="2018.8" x2="1208.2" y2="2641.2" stroke="#ebebeb" stroke-width="6"/>
<circle cx="715.9" cy="2531.6" r="5.2" fill="#555555"/>
<circle cx="722" cy="2584.7" r="5.2" fill="#555555"/>
<circle cx="728.8" cy="2573.8" r="5.2" fill="#555555"/>
<circle cx="734.9" cy="2579" r="5.2" fill="#555555"/>
<circle cx="741.4" cy="2566.5" r="5.2" fill="#555555"/>
<circle cx="741.4" cy="2590.8" r="5.2" fill="#555555"/>
<circle cx="754.4" cy="2590.8" r="5.2" fill="#555555"/>
<circle cx="761.3" cy="2599.3" r="5.2" fill="#555555"/>
<circle cx="767.4" cy="2576.6" r="5.2" fill="#555555"/>
<circle cx="773.9" cy="2570.5" r="5.2" fill="#555555"/>
<circle cx="773.9" cy="2608.2" r="5.2" fill="#555555"/>
<circle cx="773.9" cy="2599.3" r="5.2" fill="#555555"/>
<circle cx="780.8" cy="2599.3" r="5.2" fill="#555555"/>
<circle cx="787.6" cy="2599.3" r="5.2" fill="#555555"/>
<circle cx="793.7" cy="2599.3" r="5.2" fill="#555555"/>
<circle cx="787.6" cy="2611.5" r="5.2" fill="#555555"/>
<circle cx="793.7" cy="2611.5" r="5.2" fill="#555555"/>
<circle cx="800.2" cy="2611.5" r="5.2" fill="#555555"/>
<circle cx="807.1" cy="2612.3" r="5.2" fill="#555555"/>
<circle cx="814" cy="2613.5" r="5.2" fill="#555555"/>
<circle cx="820.5" cy="2614.3" r="5.2" fill="#555555"/>
<circle cx="826.6" cy="2615.5" r="5.2" fill="#555555"/>
<circle cx="833.5" cy="2616.3" r="5.2" fill="#555555"/>
<circle cx="839.6" cy="2616.3" r="5.2" fill="#555555"/>
<circle cx="845.6" cy="2616.7" r="5.2" fill="#555555"/>
<circle cx="852.5" cy="2616.3" r="5.2" fill="#555555"/>
<circle cx="859" cy="2615.1" r="5.2" fill="#555555"/>
<circle cx="865.9" cy="2613.5" r="5.2" fill="#555555"/>
<circle cx="872.8" cy="2613.5" r="5.2" fill="#555555"/>
<circle cx="879.3" cy="2612.3" r="5.2" fill="#555555"/>
<circle cx="884.2" cy="2611.5" r="5.2" fill="#555555"/>
<circle cx="884.2" cy="2599.3" r="5.2" fill="#555555"/>
<circle cx="890.3" cy="2599.3" r="5.2" fill="#555555"/>
<circle cx="897.2" cy="2599.3" r="5.2" fill="#555555"/>
<circle cx="903.2" cy="2599.3" r="5.2" fill="#555555"/>
<circle cx="909.3" cy="2599.3" r="5.2" fill="#555555"/>
<circle cx="915.8" cy="2602.1" r="5.2" fill="#555555"/>
<circle cx="922.7" cy="2599.3" r="5.2" fill="#555555"/>
<circle cx="897.6" cy="2612.3" r="5.2" fill="#555555"/>
<circle cx="903.6" cy="2611.5" r="5.2" fill="#555555"/>
<circle cx="909.7" cy="2608.2" r="5.2" fill="#555555"/>
<circle cx="916.6" cy="2605" r="5.2" fill="#555555"/>
<circle cx="922.7" cy="2603.4" r="5.2" fill="#555555"/>
<circle cx="909.7" cy="2573.8" r="5.2" fill="#555555"/>
<circle cx="916.6" cy="2569.7" r="5.2" fill="#555555"/>
<circle cx="922.7" cy="2573" r="5.2" fill="#555555"/>
<circle cx="928.8" cy="2577" r="5.2" fill="#555555"/>
<circle cx="935.7" cy="2579" r="5.2" fill="#555555"/>
<circle cx="942.2" cy="2575" r="5.2" fill="#555555"/>
<circle cx="942.2" cy="2579" r="5.2" fill="#555555"/>
<circle cx="949.1" cy="2579" r="5.2" fill="#555555"/>
<circle cx="955.1" cy="2579" r="5.2" fill="#555555"/>
<circle cx="943" cy="2599.3" r="5.2" fill="#555555"/>
<circle cx="941" cy="2521.4" r="5.2" fill="#555555"/>
<circle cx="949.1" cy="2521.4" r="5.2" fill="#555555"/>
<circle cx="955.1" cy="2545.4" r="5.2" fill="#555555"/>
<circle cx="961.2" cy="2562.4" r="5.2" fill="#555555"/>
<circle cx="968.5" cy="2565.6" r="5.2" fill="#555555"/>
<circle cx="980.7" cy="2576.6" r="5.2" fill="#555555"/>
<circle cx="987.6" cy="2573.8" r="5.2" fill="#555555"/>
<circle cx="987.6" cy="2502" r="5.2" fill="#555555"/>
<circle cx="993.7" cy="2521.4" r="5.2" fill="#555555"/>
<circle cx="1000.6" cy="2524.3" r="5.2" fill="#555555"/>
<circle cx="1000.6" cy="2566.9" r="5.2" fill="#555555"/>
<circle cx="1005.8" cy="2530.4" r="5.2" fill="#555555"/>
<circle cx="1011.1" cy="2533.2" r="5.2" fill="#555555"/>
<circle cx="1015.2" cy="2565.6" r="5.2" fill="#555555"/>
<circle cx="1020" cy="2562.8" r="5.2" fill="#555555"/>
<circle cx="1018" cy="2534.4" r="5.2" fill="#555555"/>
<circle cx="1026.1" cy="2534.4" r="5.2" fill="#555555"/>
<circle cx="1033" cy="2548.6" r="5.2" fill="#555555"/>
<circle cx="1052.5" cy="2530" r="5.2" fill="#555555"/>
<circle cx="1058.6" cy="2506.8" r="5.2" fill="#555555"/>
<circle cx="1065.5" cy="2506.8" r="5.2" fill="#555555"/>
<line x1="1135.8" y1="2218.2" x2="1125" y2="2273.3" stroke="#3f8367" stroke-width="1.6"/>
<line x1="986.8" y1="2329.2" x2="1007.1" y2="2362.1" stroke="#3f8367" stroke-width="1.6"/>
<line x1="978.3" y1="2349.5" x2="1005" y2="2360" stroke="#3f8367" stroke-width="1.6"/>
<line x1="1029.4" y1="2343.4" x2="1011" y2="2358" stroke="#3f8367" stroke-width="1.6"/>
<circle cx="1182.4" cy="2044.5" r="7.1" fill="#3f8367"/>
<circle cx="1195.1" cy="2171.2" r="6.7" fill="#3f8367"/>
<circle cx="1039.8" cy="2264.8" r="6.4" fill="#3f8367"/>
<circle cx="1123.9" cy="2277.1" r="6.5" fill="#3f8367"/>
<circle cx="1007.1" cy="2362.1" r="5.9" fill="#3f8367"/>
<circle cx="1013.1" cy="2377.9" r="5.7" fill="#3f8367"/>
<circle cx="1059.4" cy="2429.8" r="5.7" fill="#3f8367"/>
<circle cx="974.8" cy="2448" r="5.7" fill="#3f8367"/>
<circle cx="981.6" cy="2448" r="5.7" fill="#3f8367"/>
<circle cx="1026.1" cy="2462.2" r="5.7" fill="#3f8367"/>
<circle cx="1084.9" cy="2459.4" r="5.6" fill="#3f8367"/>
<circle cx="664" cy="2462.2" r="5.9" fill="#67146f"/>
<line x1="590.6" y1="2485.3" x2="1236" y2="2485.3" stroke="#e8211c" stroke-width="3.4" stroke-dasharray="14.5 14.5" stroke-dashoffset="1.5"/>
<text x="945.2" y="2067.4" font-size="22.7" fill="#3f8367" text-anchor="start" textLength="249.4" lengthAdjust="spacingAndGlyphs">Enterococcus cecorum(s)</text>
<text x="1054.7" y="2162.1" font-size="22.7" fill="#3f8367" text-anchor="start" textLength="158.3" lengthAdjust="spacingAndGlyphs">Enterococcus(g)</text>
<text x="1024" y="2212.5" font-size="22.7" fill="#3f8367" text-anchor="start" textLength="194.7" lengthAdjust="spacingAndGlyphs">Brachybacterium(g)</text>
<text x="843.1" y="2251.1" font-size="22.7" fill="#3f8367" text-anchor="start" textLength="202.1" lengthAdjust="spacingAndGlyphs">Rubellimicrobium(g)</text>
<text x="1030.8" y="2298.3" font-size="22.7" fill="#3f8367" text-anchor="start" textLength="185.4" lengthAdjust="spacingAndGlyphs">Rhodospirillales(o)</text>
<text x="766.8" y="2324.8" font-size="22.7" fill="#3f8367" text-anchor="start" textLength="246.8" lengthAdjust="spacingAndGlyphs">Cyanobacteria(p)_US7(s)</text>
<text x="1031.3" y="2343.5" font-size="22.7" fill="#3f8367" text-anchor="start" textLength="169.4" lengthAdjust="spacingAndGlyphs">Jeotgalicoccus(g)</text>
<text x="799.3" y="2352.5" font-size="22.7" fill="#3f8367" text-anchor="start" textLength="155.2" lengthAdjust="spacingAndGlyphs">Rhodoplanes(g)</text>
<text x="1020.3" y="2381.1" font-size="22.7" fill="#3f8367" text-anchor="start" textLength="148.3" lengthAdjust="spacingAndGlyphs">Skermanella(g)</text>
<text x="943.2" y="2405.4" font-size="22.7" fill="#3f8367" text-anchor="start" textLength="259" lengthAdjust="spacingAndGlyphs">Cyanobacteria(p)_US17(s)</text>
<text x="1066.9" y="2439.9" font-size="22.7" fill="#3f8367" text-anchor="start" textLength="100.4" lengthAdjust="spacingAndGlyphs">Bacillus(g)</text>
<text x="1052.7" y="2478.4" font-size="22.7" fill="#3f8367" text-anchor="start" textLength="153.6" lengthAdjust="spacingAndGlyphs">Lactobacillus(g)</text>
<text x="602.5" y="2454.1" font-size="22.7" fill="#67146f" text-anchor="start" textLength="145.1" lengthAdjust="spacingAndGlyphs">Turicibacter(g)</text>
<text x="596" y="2638.6" font-size="29.3" fill="#67146f" text-anchor="start" font-weight="bold" textLength="103.4" lengthAdjust="spacingAndGlyphs">Frontal</text>
<text x="1064.9" y="2638.6" font-size="29.3" fill="#3f8367" text-anchor="start" font-weight="bold" textLength="167" lengthAdjust="spacingAndGlyphs">Cerebellum</text>
<rect x="589.1" y="2015.3" width="648.4" height="629.4" fill="none" stroke="#262626" stroke-width="3"/>
<line x1="580.6" y1="2639.9" x2="589.1" y2="2639.9" stroke="#262626" stroke-width="5.5"/>
<text x="572.7" y="2648" font-size="22.8" fill="#3c3c3c" text-anchor="end" textLength="12.4" lengthAdjust="spacingAndGlyphs">0</text>
<line x1="580.6" y1="2521" x2="589.1" y2="2521" stroke="#262626" stroke-width="5.5"/>
<text x="572.7" y="2529.1" font-size="22.8" fill="#3c3c3c" text-anchor="end" textLength="12.4" lengthAdjust="spacingAndGlyphs">1</text>
<line x1="580.6" y1="2402.2" x2="589.1" y2="2402.2" stroke="#262626" stroke-width="5.5"/>
<text x="572.7" y="2410.3" font-size="22.8" fill="#3c3c3c" text-anchor="end" textLength="12.4" lengthAdjust="spacingAndGlyphs">2</text>
<line x1="580.6" y1="2283.3" x2="589.1" y2="2283.3" stroke="#262626" stroke-width="5.5"/>
<text x="572.7" y="2291.4" font-size="22.8" fill="#3c3c3c" text-anchor="end" textLength="12.4" lengthAdjust="spacingAndGlyphs">3</text>
<line x1="580.6" y1="2164.5" x2="589.1" y2="2164.5" stroke="#262626" stroke-width="5.5"/>
<text x="572.7" y="2172.5" font-size="22.8" fill="#3c3c3c" text-anchor="end" textLength="12.4" lengthAdjust="spacingAndGlyphs">4</text>
<line x1="580.6" y1="2045.6" x2="589.1" y2="2045.6" stroke="#262626" stroke-width="5.5"/>
<text x="572.7" y="2053.7" font-size="22.8" fill="#3c3c3c" text-anchor="end" textLength="12.4" lengthAdjust="spacingAndGlyphs">5</text>
<line x1="663.4" y1="2644.7" x2="663.4" y2="2653.7" stroke="#262626" stroke-width="5.5"/>
<text x="663.4" y="2677.2" font-size="22.8" fill="#3c3c3c" text-anchor="middle" textLength="43.2" lengthAdjust="spacingAndGlyphs">−0.2</text>
<line x1="845" y1="2644.7" x2="845" y2="2653.7" stroke="#262626" stroke-width="5.5"/>
<text x="845" y="2677.2" font-size="22.8" fill="#3c3c3c" text-anchor="middle" textLength="31" lengthAdjust="spacingAndGlyphs">0.0</text>
<line x1="1026.6" y1="2644.7" x2="1026.6" y2="2653.7" stroke="#262626" stroke-width="5.5"/>
<text x="1026.6" y="2677.2" font-size="22.8" fill="#3c3c3c" text-anchor="middle" textLength="31" lengthAdjust="spacingAndGlyphs">0.2</text>
<line x1="1208.2" y1="2644.7" x2="1208.2" y2="2653.7" stroke="#262626" stroke-width="5.5"/>
<text x="1208.2" y="2677.2" font-size="22.8" fill="#3c3c3c" text-anchor="middle" textLength="31" lengthAdjust="spacingAndGlyphs">0.4</text>
<text x="771.6" y="2709.6" font-size="27.9" fill="#000" text-anchor="start" textLength="267.7" lengthAdjust="spacingAndGlyphs">Proportion difference</text>
<text x="547.4" y="2417.3" font-size="27" fill="#000" text-anchor="start" textLength="148.4" lengthAdjust="spacingAndGlyphs" transform="rotate(-90 547.4 2417.3)">−log10(FDR)</text>
<text x="509.5" y="1961.1" font-size="66" fill="#000">h</text>
<rect x="1311.8" y="2012.9" width="681" height="630.2" fill="#fff" stroke="none" stroke-width="0"/>
<line x1="1315.3" y1="2526.4" x2="1989.3" y2="2526.4" stroke="#ebebeb" stroke-width="3.5"/>
<line x1="1315.3" y1="2322.6" x2="1989.3" y2="2322.6" stroke="#ebebeb" stroke-width="3.5"/>
<line x1="1315.3" y1="2118.8" x2="1989.3" y2="2118.8" stroke="#ebebeb" stroke-width="3.5"/>
<line x1="1378.8" y1="2016.4" x2="1378.8" y2="2639.6" stroke="#ebebeb" stroke-width="3.5"/>
<line x1="1544.7" y1="2016.4" x2="1544.7" y2="2639.6" stroke="#ebebeb" stroke-width="3.5"/>
<line x1="1710.5" y1="2016.4" x2="1710.5" y2="2639.6" stroke="#ebebeb" stroke-width="3.5"/>
<line x1="1876.5" y1="2016.4" x2="1876.5" y2="2639.6" stroke="#ebebeb" stroke-width="3.5"/>
<line x1="1315.3" y1="2628.3" x2="1989.3" y2="2628.3" stroke="#ebebeb" stroke-width="6"/>
<line x1="1315.3" y1="2424.5" x2="1989.3" y2="2424.5" stroke="#ebebeb" stroke-width="6"/>
<line x1="1315.3" y1="2220.7" x2="1989.3" y2="2220.7" stroke="#ebebeb" stroke-width="6"/>
<line x1="1315.3" y1="2016.9" x2="1989.3" y2="2016.9" stroke="#ebebeb" stroke-width="6"/>
<line x1="1461.7" y1="2016.4" x2="1461.7" y2="2639.6" stroke="#ebebeb" stroke-width="6"/>
<line x1="1627.6" y1="2016.4" x2="1627.6" y2="2639.6" stroke="#ebebeb" stroke-width="6"/>
<line x1="1793.5" y1="2016.4" x2="1793.5" y2="2639.6" stroke="#ebebeb" stroke-width="6"/>
<line x1="1959.4" y1="2016.4" x2="1959.4" y2="2639.6" stroke="#ebebeb" stroke-width="6"/>
<circle cx="1342.2" cy="2574.3" r="5.2" fill="#555555"/>
<circle cx="1366.7" cy="2592.5" r="5.2" fill="#555555"/>
<circle cx="1371.7" cy="2597.5" r="5.2" fill="#555555"/>
<circle cx="1378.1" cy="2598.4" r="5.2" fill="#555555"/>
<circle cx="1389.9" cy="2597.5" r="5.2" fill="#555555"/>
<circle cx="1394.9" cy="2599.7" r="5.2" fill="#555555"/>
<circle cx="1400" cy="2597.5" r="5.2" fill="#555555"/>
<circle cx="1413.1" cy="2600.9" r="5.2" fill="#555555"/>
<circle cx="1419" cy="2603.9" r="5.2" fill="#555555"/>
<circle cx="1423.2" cy="2606.8" r="5.2" fill="#555555"/>
<circle cx="1428.7" cy="2601.8" r="5.2" fill="#555555"/>
<circle cx="1432.9" cy="2600.9" r="5.2" fill="#555555"/>
<circle cx="1437.1" cy="2610.2" r="5.2" fill="#555555"/>
<circle cx="1443.5" cy="2611" r="5.2" fill="#555555"/>
<circle cx="1449.8" cy="2611" r="5.2" fill="#555555"/>
<circle cx="1456.1" cy="2611" r="5.2" fill="#555555"/>
<circle cx="1461.6" cy="2612.3" r="5.2" fill="#555555"/>
<circle cx="1467.9" cy="2611" r="5.2" fill="#555555"/>
<circle cx="1473.8" cy="2610.2" r="5.2" fill="#555555"/>
<circle cx="1480.6" cy="2609.4" r="5.2" fill="#555555"/>
<circle cx="1485.6" cy="2608.1" r="5.2" fill="#555555"/>
<circle cx="1490.7" cy="2600.9" r="5.2" fill="#555555"/>
<circle cx="1496.2" cy="2600.9" r="5.2" fill="#555555"/>
<circle cx="1494.1" cy="2606" r="5.2" fill="#555555"/>
<circle cx="1504.6" cy="2602.6" r="5.2" fill="#555555"/>
<circle cx="1511" cy="2600.9" r="5.2" fill="#555555"/>
<circle cx="1516" cy="2597.5" r="5.2" fill="#555555"/>
<circle cx="1521.5" cy="2597.5" r="5.2" fill="#555555"/>
<circle cx="1527.8" cy="2599.7" r="5.2" fill="#555555"/>
<circle cx="1534.2" cy="2600.9" r="5.2" fill="#555555"/>
<circle cx="1541.8" cy="2570.1" r="5.2" fill="#555555"/>
<circle cx="1546" cy="2592.5" r="5.2" fill="#555555"/>
<circle cx="1546" cy="2597.5" r="5.2" fill="#555555"/>
<circle cx="1552.3" cy="2597.5" r="5.2" fill="#555555"/>
<circle cx="1558.2" cy="2597.5" r="5.2" fill="#555555"/>
<circle cx="1563.7" cy="2597.5" r="5.2" fill="#555555"/>
<circle cx="1565" cy="2557.5" r="5.2" fill="#555555"/>
<circle cx="1570" cy="2568" r="5.2" fill="#555555"/>
<circle cx="1574.2" cy="2579.8" r="5.2" fill="#555555"/>
<circle cx="1578.5" cy="2588.3" r="5.2" fill="#555555"/>
<circle cx="1583.5" cy="2591.2" r="5.2" fill="#555555"/>
<circle cx="1577.2" cy="2597.5" r="5.2" fill="#555555"/>
<circle cx="1594.1" cy="2525.8" r="5.2" fill="#555555"/>
<circle cx="1598.3" cy="2558.3" r="5.2" fill="#555555"/>
<circle cx="1602.9" cy="2570.1" r="5.2" fill="#555555"/>
<circle cx="1608" cy="2574.3" r="5.2" fill="#555555"/>
<circle cx="1614.3" cy="2577.3" r="5.2" fill="#555555"/>
<circle cx="1620.7" cy="2577.3" r="5.2" fill="#555555"/>
<circle cx="1600.4" cy="2591.2" r="5.2" fill="#555555"/>
<circle cx="1604.6" cy="2588.3" r="5.2" fill="#555555"/>
<circle cx="1621.9" cy="2525.8" r="5.2" fill="#555555"/>
<circle cx="1626.1" cy="2557.5" r="5.2" fill="#555555"/>
<circle cx="1635.4" cy="2564.6" r="5.2" fill="#555555"/>
<circle cx="1640.9" cy="2568" r="5.2" fill="#555555"/>
<circle cx="1648.1" cy="2568.8" r="5.2" fill="#555555"/>
<circle cx="1649.3" cy="2525.8" r="5.2" fill="#555555"/>
<circle cx="1654.4" cy="2546.1" r="5.2" fill="#555555"/>
<circle cx="1659.5" cy="2557.5" r="5.2" fill="#555555"/>
<circle cx="1667.9" cy="2557.5" r="5.2" fill="#555555"/>
<circle cx="1681" cy="2557.5" r="5.2" fill="#555555"/>
<circle cx="1695.3" cy="2546.9" r="5.2" fill="#555555"/>
<circle cx="1706.3" cy="2500.5" r="5.2" fill="#555555"/>
<circle cx="1715.6" cy="2525.8" r="5.2" fill="#555555"/>
<circle cx="1732.5" cy="2525.8" r="5.2" fill="#555555"/>
<circle cx="1738.8" cy="2500.5" r="5.2" fill="#555555"/>
<line x1="1813.9" y1="2290.4" x2="1806.3" y2="2342.3" stroke="#5ee2a6" stroke-width="1.6"/>
<line x1="1637.5" y1="2402.6" x2="1667.1" y2="2430.9" stroke="#5ee2a6" stroke-width="1.6"/>
<line x1="1640.9" y1="2423.7" x2="1667.1" y2="2430.9" stroke="#5ee2a6" stroke-width="1.6"/>
<line x1="1755.7" y1="2433" x2="1806.3" y2="2465.9" stroke="#5ee2a6" stroke-width="1.6"/>
<line x1="1766.2" y1="2473.1" x2="1833.7" y2="2523.7" stroke="#5ee2a6" stroke-width="1.6"/>
<circle cx="1852.7" cy="2041.3" r="7" fill="#5ee2a6"/>
<circle cx="1960.8" cy="2041.3" r="7" fill="#5ee2a6"/>
<circle cx="1720.7" cy="2345.7" r="6.2" fill="#5ee2a6"/>
<circle cx="1805.5" cy="2348.6" r="6.3" fill="#5ee2a6"/>
<circle cx="1894.1" cy="2348.6" r="6" fill="#5ee2a6"/>
<circle cx="1838" cy="2394.2" r="5.9" fill="#5ee2a6"/>
<circle cx="1669.2" cy="2431.7" r="5.7" fill="#5ee2a6"/>
<circle cx="1725.3" cy="2431.7" r="5.7" fill="#5ee2a6"/>
<circle cx="1753.6" cy="2431.7" r="5.7" fill="#5ee2a6"/>
<circle cx="1813.9" cy="2432.1" r="5.7" fill="#5ee2a6"/>
<circle cx="1645.1" cy="2471" r="5.7" fill="#5ee2a6"/>
<circle cx="1673.4" cy="2471" r="5.7" fill="#5ee2a6"/>
<circle cx="1701.7" cy="2471" r="5.7" fill="#5ee2a6"/>
<circle cx="1729.5" cy="2471" r="5.7" fill="#5ee2a6"/>
<circle cx="1762.8" cy="2471" r="5.7" fill="#5ee2a6"/>
<circle cx="1767.1" cy="2482.4" r="5.7" fill="#5ee2a6"/>
<circle cx="1617.3" cy="2495" r="5.7" fill="#5ee2a6"/>
<line x1="1313.3" y1="2495.7" x2="1991.3" y2="2495.7" stroke="#e8211c" stroke-width="3.4" stroke-dasharray="14.5 14.5" stroke-dashoffset="1.5"/>
<text x="1674.3" y="2047.3" font-size="22.7" fill="#58dc9e" text-anchor="start" textLength="149.1" lengthAdjust="spacingAndGlyphs">Skermanella(g)</text>
<text x="1874.6" y="2073.4" font-size="22.7" fill="#58dc9e" text-anchor="start" textLength="100.4" lengthAdjust="spacingAndGlyphs">Bacillus(g)</text>
<text x="1742" y="2286" font-size="22.7" fill="#58dc9e" text-anchor="start" textLength="199" lengthAdjust="spacingAndGlyphs">Rhodospirillaceae(f)</text>
<text x="1504.9" y="2335.1" font-size="22.7" fill="#58dc9e" text-anchor="start" textLength="237.4" lengthAdjust="spacingAndGlyphs">Skermanella(g)_US27(s)</text>
<text x="1834" y="2341" font-size="22.7" fill="#58dc9e" text-anchor="start" textLength="131.9" lengthAdjust="spacingAndGlyphs">Bacillaceae(f)</text>
<text x="1553.4" y="2368.9" font-size="22.7" fill="#58dc9e" text-anchor="start" textLength="201.9" lengthAdjust="spacingAndGlyphs">Rubellimicrobium(g)</text>
<text x="1772.8" y="2385.7" font-size="22.7" fill="#58dc9e" text-anchor="start" textLength="188.9" lengthAdjust="spacingAndGlyphs">Nocardioidaceae(f)</text>
<text x="1334.9" y="2401.3" font-size="22.7" fill="#58dc9e" text-anchor="start" textLength="303.1" lengthAdjust="spacingAndGlyphs">Noviherbaspirillum(g)_US87(s)</text>
<text x="1789.7" y="2421.6" font-size="22.7" fill="#58dc9e" text-anchor="start" textLength="185.9" lengthAdjust="spacingAndGlyphs">Microbacterium(g)</text>
<text x="1320.9" y="2427.5" font-size="22.7" fill="#58dc9e" text-anchor="start" textLength="289.7" lengthAdjust="spacingAndGlyphs">Campylobacter ureolyticus(s)</text>
<text x="1806.2" y="2478.6" font-size="22.7" fill="#58dc9e" text-anchor="start" textLength="155.5" lengthAdjust="spacingAndGlyphs">Arthrobacter(g)</text>
<text x="1780" y="2543.5" font-size="22.7" fill="#58dc9e" text-anchor="start" textLength="153.4" lengthAdjust="spacingAndGlyphs">Lactobacillus(g)</text>
<text x="1319.3" y="2633.4" font-size="29.3" fill="#67146f" text-anchor="start" font-weight="bold" textLength="104.1" lengthAdjust="spacingAndGlyphs">Frontal</text>
<text x="1851.7" y="2633.4" font-size="29.3" fill="#58dc9e" text-anchor="start" font-weight="bold" textLength="129.4" lengthAdjust="spacingAndGlyphs">Occipital</text>
<rect x="1311.8" y="2012.9" width="681" height="630.2" fill="none" stroke="#262626" stroke-width="3"/>
<line x1="1303.3" y1="2628.3" x2="1311.8" y2="2628.3" stroke="#262626" stroke-width="5.5"/>
<text x="1296.5" y="2636.4" font-size="22.8" fill="#3c3c3c" text-anchor="end" textLength="12.4" lengthAdjust="spacingAndGlyphs">0</text>
<line x1="1303.3" y1="2424.5" x2="1311.8" y2="2424.5" stroke="#262626" stroke-width="5.5"/>
<text x="1296.5" y="2432.6" font-size="22.8" fill="#3c3c3c" text-anchor="end" textLength="12.4" lengthAdjust="spacingAndGlyphs">2</text>
<line x1="1303.3" y1="2220.7" x2="1311.8" y2="2220.7" stroke="#262626" stroke-width="5.5"/>
<text x="1296.5" y="2228.8" font-size="22.8" fill="#3c3c3c" text-anchor="end" textLength="12.4" lengthAdjust="spacingAndGlyphs">4</text>
<line x1="1303.3" y1="2016.9" x2="1311.8" y2="2016.9" stroke="#262626" stroke-width="5.5"/>
<text x="1296.5" y="2025" font-size="22.8" fill="#3c3c3c" text-anchor="end" textLength="12.4" lengthAdjust="spacingAndGlyphs">6</text>
<line x1="1461.7" y1="2643.1" x2="1461.7" y2="2652.1" stroke="#262626" stroke-width="5.5"/>
<text x="1461.7" y="2675.6" font-size="22.8" fill="#3c3c3c" text-anchor="middle" textLength="31" lengthAdjust="spacingAndGlyphs">0.0</text>
<line x1="1627.6" y1="2643.1" x2="1627.6" y2="2652.1" stroke="#262626" stroke-width="5.5"/>
<text x="1627.6" y="2675.6" font-size="22.8" fill="#3c3c3c" text-anchor="middle" textLength="31" lengthAdjust="spacingAndGlyphs">0.2</text>
<line x1="1793.5" y1="2643.1" x2="1793.5" y2="2652.1" stroke="#262626" stroke-width="5.5"/>
<text x="1793.5" y="2675.6" font-size="22.8" fill="#3c3c3c" text-anchor="middle" textLength="31" lengthAdjust="spacingAndGlyphs">0.4</text>
<line x1="1959.4" y1="2643.1" x2="1959.4" y2="2652.1" stroke="#262626" stroke-width="5.5"/>
<text x="1959.4" y="2675.6" font-size="22.8" fill="#3c3c3c" text-anchor="middle" textLength="31" lengthAdjust="spacingAndGlyphs">0.6</text>
<text x="1510" y="2708.1" font-size="27.9" fill="#000" text-anchor="start" textLength="267.8" lengthAdjust="spacingAndGlyphs">Proportion difference</text>
<text x="1277.3" y="2413.7" font-size="27" fill="#000" text-anchor="start" textLength="147.3" lengthAdjust="spacingAndGlyphs" transform="rotate(-90 1277.3 2413.7)">−log10(FDR)</text>
<text x="1249" y="1960.2" font-size="66" fill="#000">i</text>
</svg>
</body></html>
